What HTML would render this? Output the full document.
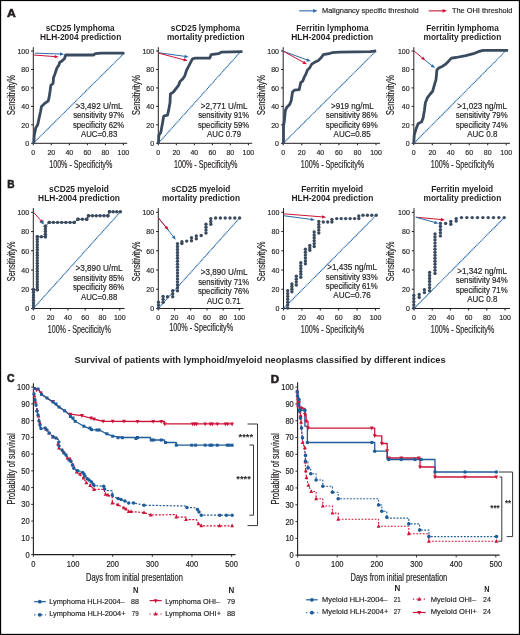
<!DOCTYPE html><html><head><meta charset="utf-8"><style>html,body{margin:0;padding:0;background:#fff;}svg{display:block;will-change:transform;}text{font-family:"Liberation Sans",sans-serif;}</style></head><body><svg width="520" height="635" viewBox="0 0 520 635" font-family="Liberation Sans, sans-serif">
<rect x="0" y="0" width="520" height="635" fill="#fff"/>
<line x1="299.20" y1="10.85" x2="313.60" y2="10.85" stroke="#2a6aa8" stroke-width="1.1" />
<polygon points="317.50,10.85 313.10,12.75 313.10,8.95" fill="#2a6aa8"/>
<text x="322.10" y="12.80" font-size="7.9" font-weight="normal" fill="#231f20" stroke="#231f20" stroke-width="0.18" textLength="96.60" lengthAdjust="spacingAndGlyphs">Malignancy specific threshold</text>
<line x1="428.80" y1="10.85" x2="443.10" y2="10.85" stroke="#cc1439" stroke-width="1.1" />
<polygon points="447.00,10.85 442.60,12.75 442.60,8.95" fill="#cc1439"/>
<text x="451.90" y="12.80" font-size="7.9" font-weight="normal" fill="#231f20" stroke="#231f20" stroke-width="0.18" textLength="60.60" lengthAdjust="spacingAndGlyphs">The OHI threshold</text>
<text x="7.00" y="16.50" font-size="11.7" font-weight="bold" fill="#231f20" stroke="#231f20" stroke-width="0.6" textLength="8.80" lengthAdjust="spacingAndGlyphs">A</text>
<text x="7.20" y="188.20" font-size="11.7" font-weight="bold" fill="#231f20" stroke="#231f20" stroke-width="0.6" textLength="7.30" lengthAdjust="spacingAndGlyphs">B</text>
<line x1="33.30" y1="47.20" x2="33.30" y2="143.80" stroke="#231f20" stroke-width="1" />
<line x1="32.80" y1="143.30" x2="127.20" y2="143.30" stroke="#231f20" stroke-width="1" />
<line x1="31.10" y1="143.30" x2="33.30" y2="143.30" stroke="#231f20" stroke-width="1.0" />
<text x="29.10" y="146.05" font-size="7.9" fill="#231f20" stroke="#231f20" stroke-width="0.18" text-anchor="end" textLength="3.90" lengthAdjust="spacingAndGlyphs">0</text>
<line x1="33.30" y1="143.30" x2="33.30" y2="145.30" stroke="#231f20" stroke-width="1.0" />
<text x="33.30" y="154.90" font-size="7.9" font-weight="normal" fill="#231f20" stroke="#231f20" stroke-width="0.18" text-anchor="middle" textLength="3.90" lengthAdjust="spacingAndGlyphs">0</text>
<line x1="31.10" y1="124.84" x2="33.30" y2="124.84" stroke="#231f20" stroke-width="1.0" />
<text x="29.10" y="127.59" font-size="7.9" fill="#231f20" stroke="#231f20" stroke-width="0.18" text-anchor="end" textLength="7.80" lengthAdjust="spacingAndGlyphs">20</text>
<line x1="51.32" y1="143.30" x2="51.32" y2="145.30" stroke="#231f20" stroke-width="1.0" />
<text x="51.32" y="154.90" font-size="7.9" font-weight="normal" fill="#231f20" stroke="#231f20" stroke-width="0.18" text-anchor="middle" textLength="7.80" lengthAdjust="spacingAndGlyphs">20</text>
<line x1="31.10" y1="106.38" x2="33.30" y2="106.38" stroke="#231f20" stroke-width="1.0" />
<text x="29.10" y="109.13" font-size="7.9" fill="#231f20" stroke="#231f20" stroke-width="0.18" text-anchor="end" textLength="7.80" lengthAdjust="spacingAndGlyphs">40</text>
<line x1="69.34" y1="143.30" x2="69.34" y2="145.30" stroke="#231f20" stroke-width="1.0" />
<text x="69.34" y="154.90" font-size="7.9" font-weight="normal" fill="#231f20" stroke="#231f20" stroke-width="0.18" text-anchor="middle" textLength="7.80" lengthAdjust="spacingAndGlyphs">40</text>
<line x1="31.10" y1="87.92" x2="33.30" y2="87.92" stroke="#231f20" stroke-width="1.0" />
<text x="29.10" y="90.67" font-size="7.9" fill="#231f20" stroke="#231f20" stroke-width="0.18" text-anchor="end" textLength="7.80" lengthAdjust="spacingAndGlyphs">60</text>
<line x1="87.36" y1="143.30" x2="87.36" y2="145.30" stroke="#231f20" stroke-width="1.0" />
<text x="87.36" y="154.90" font-size="7.9" font-weight="normal" fill="#231f20" stroke="#231f20" stroke-width="0.18" text-anchor="middle" textLength="7.80" lengthAdjust="spacingAndGlyphs">60</text>
<line x1="31.10" y1="69.46" x2="33.30" y2="69.46" stroke="#231f20" stroke-width="1.0" />
<text x="29.10" y="72.21" font-size="7.9" fill="#231f20" stroke="#231f20" stroke-width="0.18" text-anchor="end" textLength="7.80" lengthAdjust="spacingAndGlyphs">80</text>
<line x1="105.38" y1="143.30" x2="105.38" y2="145.30" stroke="#231f20" stroke-width="1.0" />
<text x="105.38" y="154.90" font-size="7.9" font-weight="normal" fill="#231f20" stroke="#231f20" stroke-width="0.18" text-anchor="middle" textLength="7.80" lengthAdjust="spacingAndGlyphs">80</text>
<line x1="31.10" y1="51.00" x2="33.30" y2="51.00" stroke="#231f20" stroke-width="1.0" />
<text x="29.10" y="53.75" font-size="7.9" fill="#231f20" stroke="#231f20" stroke-width="0.18" text-anchor="end" textLength="11.70" lengthAdjust="spacingAndGlyphs">100</text>
<line x1="123.40" y1="143.30" x2="123.40" y2="145.30" stroke="#231f20" stroke-width="1.0" />
<text x="123.40" y="154.90" font-size="7.9" font-weight="normal" fill="#231f20" stroke="#231f20" stroke-width="0.18" text-anchor="middle" textLength="11.70" lengthAdjust="spacingAndGlyphs">100</text>
<text x="45.80" y="30.50" font-size="8.6" font-weight="bold" fill="#231f20" textLength="68.80" lengthAdjust="spacingAndGlyphs">sCD25 lymphoma</text>
<text x="40.00" y="40.00" font-size="8.6" font-weight="bold" fill="#231f20" textLength="81.30" lengthAdjust="spacingAndGlyphs">HLH-2004 prediction</text>
<line x1="33.30" y1="143.30" x2="124.20" y2="53.10" stroke="#2266aa" stroke-width="1.2" stroke-dasharray="0.15 1.6" stroke-linecap="round"/>
<polyline points="33.80,143.10 34.20,135.40 35.80,127.70 37.70,124.80 38.70,120.00 40.60,111.30 41.50,106.50 44.40,103.70 48.30,100.80 49.20,96.90 50.20,90.20 50.80,85.40 53.10,83.50 53.50,77.70 55.00,73.80 56.90,68.00 58.80,65.20 59.80,62.30 61.70,61.30 64.60,58.50 65.60,55.00 93.50,55.00 95.40,53.70 101.20,53.10 124.20,53.10" fill="none" stroke="#3b4b5f" stroke-width="2.8" stroke-linejoin="round" />
<line x1="34.80" y1="53.10" x2="60.50" y2="54.06" stroke="#2a6aa8" stroke-width="1.0" />
<polygon points="64.20,54.20 59.94,55.74 60.07,52.34" fill="#2a6aa8"/>
<line x1="33.80" y1="55.00" x2="55.11" y2="56.62" stroke="#cc1439" stroke-width="1.0" />
<polygon points="58.80,56.90 54.48,58.28 54.74,54.89" fill="#cc1439"/>
<text x="75.50" y="109.10" font-size="8.3" font-weight="normal" fill="#231f20" stroke="#231f20" stroke-width="0.18" textLength="47.00" lengthAdjust="spacingAndGlyphs">&gt;3,492 U/mL</text>
<text x="73.20" y="118.40" font-size="8.3" font-weight="normal" fill="#231f20" stroke="#231f20" stroke-width="0.18" textLength="51.00" lengthAdjust="spacingAndGlyphs">sensitivity 97%</text>
<text x="72.90" y="127.60" font-size="8.3" font-weight="normal" fill="#231f20" stroke="#231f20" stroke-width="0.18" textLength="51.30" lengthAdjust="spacingAndGlyphs">specificity 62%</text>
<text x="81.00" y="136.80" font-size="8.3" font-weight="normal" fill="#231f20" stroke="#231f20" stroke-width="0.18" textLength="36.30" lengthAdjust="spacingAndGlyphs">AUC=0.83</text>
<text transform="translate(14.50,114.90) rotate(-90)" x="0" y="0" font-size="10.2" fill="#231f20" stroke="#231f20" stroke-width="0.2" textLength="40.00" lengthAdjust="spacingAndGlyphs">Sensitivity%</text>
<text x="49.20" y="167.80" font-size="10.7" font-weight="normal" fill="#231f20" stroke="#231f20" stroke-width="0.18" textLength="63.10" lengthAdjust="spacingAndGlyphs">100% - Specificity%</text>
<line x1="158.30" y1="47.20" x2="158.30" y2="143.80" stroke="#231f20" stroke-width="1" />
<line x1="157.80" y1="143.30" x2="252.20" y2="143.30" stroke="#231f20" stroke-width="1" />
<line x1="156.10" y1="143.30" x2="158.30" y2="143.30" stroke="#231f20" stroke-width="1.0" />
<text x="154.10" y="146.05" font-size="7.9" fill="#231f20" stroke="#231f20" stroke-width="0.18" text-anchor="end" textLength="3.90" lengthAdjust="spacingAndGlyphs">0</text>
<line x1="158.30" y1="143.30" x2="158.30" y2="145.30" stroke="#231f20" stroke-width="1.0" />
<text x="158.30" y="154.90" font-size="7.9" font-weight="normal" fill="#231f20" stroke="#231f20" stroke-width="0.18" text-anchor="middle" textLength="3.90" lengthAdjust="spacingAndGlyphs">0</text>
<line x1="156.10" y1="124.84" x2="158.30" y2="124.84" stroke="#231f20" stroke-width="1.0" />
<text x="154.10" y="127.59" font-size="7.9" fill="#231f20" stroke="#231f20" stroke-width="0.18" text-anchor="end" textLength="7.80" lengthAdjust="spacingAndGlyphs">20</text>
<line x1="176.32" y1="143.30" x2="176.32" y2="145.30" stroke="#231f20" stroke-width="1.0" />
<text x="176.32" y="154.90" font-size="7.9" font-weight="normal" fill="#231f20" stroke="#231f20" stroke-width="0.18" text-anchor="middle" textLength="7.80" lengthAdjust="spacingAndGlyphs">20</text>
<line x1="156.10" y1="106.38" x2="158.30" y2="106.38" stroke="#231f20" stroke-width="1.0" />
<text x="154.10" y="109.13" font-size="7.9" fill="#231f20" stroke="#231f20" stroke-width="0.18" text-anchor="end" textLength="7.80" lengthAdjust="spacingAndGlyphs">40</text>
<line x1="194.34" y1="143.30" x2="194.34" y2="145.30" stroke="#231f20" stroke-width="1.0" />
<text x="194.34" y="154.90" font-size="7.9" font-weight="normal" fill="#231f20" stroke="#231f20" stroke-width="0.18" text-anchor="middle" textLength="7.80" lengthAdjust="spacingAndGlyphs">40</text>
<line x1="156.10" y1="87.92" x2="158.30" y2="87.92" stroke="#231f20" stroke-width="1.0" />
<text x="154.10" y="90.67" font-size="7.9" fill="#231f20" stroke="#231f20" stroke-width="0.18" text-anchor="end" textLength="7.80" lengthAdjust="spacingAndGlyphs">60</text>
<line x1="212.36" y1="143.30" x2="212.36" y2="145.30" stroke="#231f20" stroke-width="1.0" />
<text x="212.36" y="154.90" font-size="7.9" font-weight="normal" fill="#231f20" stroke="#231f20" stroke-width="0.18" text-anchor="middle" textLength="7.80" lengthAdjust="spacingAndGlyphs">60</text>
<line x1="156.10" y1="69.46" x2="158.30" y2="69.46" stroke="#231f20" stroke-width="1.0" />
<text x="154.10" y="72.21" font-size="7.9" fill="#231f20" stroke="#231f20" stroke-width="0.18" text-anchor="end" textLength="7.80" lengthAdjust="spacingAndGlyphs">80</text>
<line x1="230.38" y1="143.30" x2="230.38" y2="145.30" stroke="#231f20" stroke-width="1.0" />
<text x="230.38" y="154.90" font-size="7.9" font-weight="normal" fill="#231f20" stroke="#231f20" stroke-width="0.18" text-anchor="middle" textLength="7.80" lengthAdjust="spacingAndGlyphs">80</text>
<line x1="156.10" y1="51.00" x2="158.30" y2="51.00" stroke="#231f20" stroke-width="1.0" />
<text x="154.10" y="53.75" font-size="7.9" fill="#231f20" stroke="#231f20" stroke-width="0.18" text-anchor="end" textLength="11.70" lengthAdjust="spacingAndGlyphs">100</text>
<line x1="248.40" y1="143.30" x2="248.40" y2="145.30" stroke="#231f20" stroke-width="1.0" />
<text x="248.40" y="154.90" font-size="7.9" font-weight="normal" fill="#231f20" stroke="#231f20" stroke-width="0.18" text-anchor="middle" textLength="11.70" lengthAdjust="spacingAndGlyphs">100</text>
<text x="170.80" y="30.50" font-size="8.6" font-weight="bold" fill="#231f20" textLength="69.20" lengthAdjust="spacingAndGlyphs">sCD25 lymphoma</text>
<text x="166.90" y="40.00" font-size="8.6" font-weight="bold" fill="#231f20" textLength="77.70" lengthAdjust="spacingAndGlyphs">mortality prediction</text>
<line x1="158.30" y1="143.30" x2="239.80" y2="52.50" stroke="#2266aa" stroke-width="1.2" stroke-dasharray="0.15 1.6" stroke-linecap="round"/>
<polyline points="158.50,143.10 158.80,135.40 160.80,132.50 162.70,121.90 163.70,116.20 167.50,115.20 168.80,109.40 170.00,102.70 170.40,94.00 173.30,92.10 176.20,88.30 178.50,85.40 180.00,81.50 182.90,78.70 184.80,75.80 186.70,70.00 188.70,66.20 190.60,62.30 192.50,58.80 195.40,58.10 209.80,58.10 211.20,54.60 218.50,53.70 221.30,52.10 242.50,51.70" fill="none" stroke="#3b4b5f" stroke-width="2.8" stroke-linejoin="round" />
<line x1="158.50" y1="52.70" x2="185.04" y2="56.39" stroke="#2a6aa8" stroke-width="1.0" />
<polygon points="188.70,56.90 184.31,58.01 184.77,54.64" fill="#2a6aa8"/>
<line x1="158.50" y1="53.10" x2="184.12" y2="59.86" stroke="#cc1439" stroke-width="1.0" />
<polygon points="187.70,60.80 183.21,61.37 184.07,58.09" fill="#cc1439"/>
<text x="200.80" y="109.10" font-size="8.3" font-weight="normal" fill="#231f20" stroke="#231f20" stroke-width="0.18" textLength="46.70" lengthAdjust="spacingAndGlyphs">&gt;2,771 U/mL</text>
<text x="198.20" y="118.40" font-size="8.3" font-weight="normal" fill="#231f20" stroke="#231f20" stroke-width="0.18" textLength="51.00" lengthAdjust="spacingAndGlyphs">sensitivity 91%</text>
<text x="197.90" y="127.60" font-size="8.3" font-weight="normal" fill="#231f20" stroke="#231f20" stroke-width="0.18" textLength="51.30" lengthAdjust="spacingAndGlyphs">specificity 59%</text>
<text x="207.10" y="136.80" font-size="8.3" font-weight="normal" fill="#231f20" stroke="#231f20" stroke-width="0.18" textLength="34.00" lengthAdjust="spacingAndGlyphs">AUC 0.79</text>
<text transform="translate(139.50,114.90) rotate(-90)" x="0" y="0" font-size="10.2" fill="#231f20" stroke="#231f20" stroke-width="0.2" textLength="40.00" lengthAdjust="spacingAndGlyphs">Sensitivity%</text>
<text x="174.00" y="167.80" font-size="10.7" font-weight="normal" fill="#231f20" stroke="#231f20" stroke-width="0.18" textLength="63.50" lengthAdjust="spacingAndGlyphs">100% - Specificity%</text>
<line x1="283.20" y1="47.20" x2="283.20" y2="143.80" stroke="#231f20" stroke-width="1" />
<line x1="282.70" y1="143.30" x2="380.00" y2="143.30" stroke="#231f20" stroke-width="1" />
<line x1="281.00" y1="143.30" x2="283.20" y2="143.30" stroke="#231f20" stroke-width="1.0" />
<text x="279.00" y="146.05" font-size="7.9" fill="#231f20" stroke="#231f20" stroke-width="0.18" text-anchor="end" textLength="3.90" lengthAdjust="spacingAndGlyphs">0</text>
<line x1="283.20" y1="143.30" x2="283.20" y2="145.30" stroke="#231f20" stroke-width="1.0" />
<text x="283.20" y="154.90" font-size="7.9" font-weight="normal" fill="#231f20" stroke="#231f20" stroke-width="0.18" text-anchor="middle" textLength="3.90" lengthAdjust="spacingAndGlyphs">0</text>
<line x1="281.00" y1="124.84" x2="283.20" y2="124.84" stroke="#231f20" stroke-width="1.0" />
<text x="279.00" y="127.59" font-size="7.9" fill="#231f20" stroke="#231f20" stroke-width="0.18" text-anchor="end" textLength="7.80" lengthAdjust="spacingAndGlyphs">20</text>
<line x1="301.76" y1="143.30" x2="301.76" y2="145.30" stroke="#231f20" stroke-width="1.0" />
<text x="301.76" y="154.90" font-size="7.9" font-weight="normal" fill="#231f20" stroke="#231f20" stroke-width="0.18" text-anchor="middle" textLength="7.80" lengthAdjust="spacingAndGlyphs">20</text>
<line x1="281.00" y1="106.38" x2="283.20" y2="106.38" stroke="#231f20" stroke-width="1.0" />
<text x="279.00" y="109.13" font-size="7.9" fill="#231f20" stroke="#231f20" stroke-width="0.18" text-anchor="end" textLength="7.80" lengthAdjust="spacingAndGlyphs">40</text>
<line x1="320.32" y1="143.30" x2="320.32" y2="145.30" stroke="#231f20" stroke-width="1.0" />
<text x="320.32" y="154.90" font-size="7.9" font-weight="normal" fill="#231f20" stroke="#231f20" stroke-width="0.18" text-anchor="middle" textLength="7.80" lengthAdjust="spacingAndGlyphs">40</text>
<line x1="281.00" y1="87.92" x2="283.20" y2="87.92" stroke="#231f20" stroke-width="1.0" />
<text x="279.00" y="90.67" font-size="7.9" fill="#231f20" stroke="#231f20" stroke-width="0.18" text-anchor="end" textLength="7.80" lengthAdjust="spacingAndGlyphs">60</text>
<line x1="338.88" y1="143.30" x2="338.88" y2="145.30" stroke="#231f20" stroke-width="1.0" />
<text x="338.88" y="154.90" font-size="7.9" font-weight="normal" fill="#231f20" stroke="#231f20" stroke-width="0.18" text-anchor="middle" textLength="7.80" lengthAdjust="spacingAndGlyphs">60</text>
<line x1="281.00" y1="69.46" x2="283.20" y2="69.46" stroke="#231f20" stroke-width="1.0" />
<text x="279.00" y="72.21" font-size="7.9" fill="#231f20" stroke="#231f20" stroke-width="0.18" text-anchor="end" textLength="7.80" lengthAdjust="spacingAndGlyphs">80</text>
<line x1="357.44" y1="143.30" x2="357.44" y2="145.30" stroke="#231f20" stroke-width="1.0" />
<text x="357.44" y="154.90" font-size="7.9" font-weight="normal" fill="#231f20" stroke="#231f20" stroke-width="0.18" text-anchor="middle" textLength="7.80" lengthAdjust="spacingAndGlyphs">80</text>
<line x1="281.00" y1="51.00" x2="283.20" y2="51.00" stroke="#231f20" stroke-width="1.0" />
<text x="279.00" y="53.75" font-size="7.9" fill="#231f20" stroke="#231f20" stroke-width="0.18" text-anchor="end" textLength="11.70" lengthAdjust="spacingAndGlyphs">100</text>
<line x1="376.00" y1="143.30" x2="376.00" y2="145.30" stroke="#231f20" stroke-width="1.0" />
<text x="376.00" y="154.90" font-size="7.9" font-weight="normal" fill="#231f20" stroke="#231f20" stroke-width="0.18" text-anchor="middle" textLength="11.70" lengthAdjust="spacingAndGlyphs">100</text>
<text x="296.30" y="30.50" font-size="8.6" font-weight="bold" fill="#231f20" textLength="72.20" lengthAdjust="spacingAndGlyphs">Ferritin lymphoma</text>
<text x="291.20" y="40.00" font-size="8.6" font-weight="bold" fill="#231f20" textLength="82.10" lengthAdjust="spacingAndGlyphs">HLH-2004 prediction</text>
<line x1="283.20" y1="143.30" x2="376.20" y2="50.80" stroke="#2266aa" stroke-width="1.2" stroke-dasharray="0.15 1.6" stroke-linecap="round"/>
<polyline points="283.50,143.10 283.50,125.80 284.20,121.90 285.40,110.40 286.70,107.50 289.60,104.60 291.20,100.80 292.50,92.10 294.40,90.20 299.20,89.60 300.80,82.50 302.70,81.20 304.00,77.70 306.00,73.80 307.50,70.00 309.80,67.70 311.70,64.20 314.60,62.30 318.50,60.40 321.30,57.50 323.30,54.60 329.00,53.70 331.90,52.70 339.60,52.10 370.40,51.70 376.20,50.80" fill="none" stroke="#3b4b5f" stroke-width="2.8" stroke-linejoin="round" />
<line x1="283.20" y1="51.20" x2="307.33" y2="60.03" stroke="#2a6aa8" stroke-width="1.0" />
<polygon points="310.80,61.30 306.27,61.45 307.44,58.26" fill="#2a6aa8"/>
<line x1="283.20" y1="51.20" x2="303.66" y2="62.42" stroke="#cc1439" stroke-width="1.0" />
<polygon points="306.90,64.20 302.40,63.67 304.04,60.69" fill="#cc1439"/>
<text x="331.00" y="109.10" font-size="8.3" font-weight="normal" fill="#231f20" stroke="#231f20" stroke-width="0.18" textLength="42.60" lengthAdjust="spacingAndGlyphs">&gt;919 ng/mL</text>
<text x="325.80" y="118.40" font-size="8.3" font-weight="normal" fill="#231f20" stroke="#231f20" stroke-width="0.18" textLength="51.90" lengthAdjust="spacingAndGlyphs">sensitivity 86%</text>
<text x="325.80" y="127.60" font-size="8.3" font-weight="normal" fill="#231f20" stroke="#231f20" stroke-width="0.18" textLength="51.90" lengthAdjust="spacingAndGlyphs">specificity 69%</text>
<text x="333.60" y="136.80" font-size="8.3" font-weight="normal" fill="#231f20" stroke="#231f20" stroke-width="0.18" textLength="37.10" lengthAdjust="spacingAndGlyphs">AUC=0.85</text>
<text transform="translate(264.50,114.90) rotate(-90)" x="0" y="0" font-size="10.2" fill="#231f20" stroke="#231f20" stroke-width="0.2" textLength="40.00" lengthAdjust="spacingAndGlyphs">Sensitivity%</text>
<text x="300.80" y="167.80" font-size="10.7" font-weight="normal" fill="#231f20" stroke="#231f20" stroke-width="0.18" textLength="63.40" lengthAdjust="spacingAndGlyphs">100% - Specificity%</text>
<line x1="413.80" y1="47.20" x2="413.80" y2="143.80" stroke="#231f20" stroke-width="1" />
<line x1="413.30" y1="143.30" x2="510.00" y2="143.30" stroke="#231f20" stroke-width="1" />
<line x1="411.60" y1="143.30" x2="413.80" y2="143.30" stroke="#231f20" stroke-width="1.0" />
<text x="409.60" y="146.05" font-size="7.9" fill="#231f20" stroke="#231f20" stroke-width="0.18" text-anchor="end" textLength="3.90" lengthAdjust="spacingAndGlyphs">0</text>
<line x1="413.80" y1="143.30" x2="413.80" y2="145.30" stroke="#231f20" stroke-width="1.0" />
<text x="413.80" y="154.90" font-size="7.9" font-weight="normal" fill="#231f20" stroke="#231f20" stroke-width="0.18" text-anchor="middle" textLength="3.90" lengthAdjust="spacingAndGlyphs">0</text>
<line x1="411.60" y1="124.84" x2="413.80" y2="124.84" stroke="#231f20" stroke-width="1.0" />
<text x="409.60" y="127.59" font-size="7.9" fill="#231f20" stroke="#231f20" stroke-width="0.18" text-anchor="end" textLength="7.80" lengthAdjust="spacingAndGlyphs">20</text>
<line x1="432.28" y1="143.30" x2="432.28" y2="145.30" stroke="#231f20" stroke-width="1.0" />
<text x="432.28" y="154.90" font-size="7.9" font-weight="normal" fill="#231f20" stroke="#231f20" stroke-width="0.18" text-anchor="middle" textLength="7.80" lengthAdjust="spacingAndGlyphs">20</text>
<line x1="411.60" y1="106.38" x2="413.80" y2="106.38" stroke="#231f20" stroke-width="1.0" />
<text x="409.60" y="109.13" font-size="7.9" fill="#231f20" stroke="#231f20" stroke-width="0.18" text-anchor="end" textLength="7.80" lengthAdjust="spacingAndGlyphs">40</text>
<line x1="450.76" y1="143.30" x2="450.76" y2="145.30" stroke="#231f20" stroke-width="1.0" />
<text x="450.76" y="154.90" font-size="7.9" font-weight="normal" fill="#231f20" stroke="#231f20" stroke-width="0.18" text-anchor="middle" textLength="7.80" lengthAdjust="spacingAndGlyphs">40</text>
<line x1="411.60" y1="87.92" x2="413.80" y2="87.92" stroke="#231f20" stroke-width="1.0" />
<text x="409.60" y="90.67" font-size="7.9" fill="#231f20" stroke="#231f20" stroke-width="0.18" text-anchor="end" textLength="7.80" lengthAdjust="spacingAndGlyphs">60</text>
<line x1="469.24" y1="143.30" x2="469.24" y2="145.30" stroke="#231f20" stroke-width="1.0" />
<text x="469.24" y="154.90" font-size="7.9" font-weight="normal" fill="#231f20" stroke="#231f20" stroke-width="0.18" text-anchor="middle" textLength="7.80" lengthAdjust="spacingAndGlyphs">60</text>
<line x1="411.60" y1="69.46" x2="413.80" y2="69.46" stroke="#231f20" stroke-width="1.0" />
<text x="409.60" y="72.21" font-size="7.9" fill="#231f20" stroke="#231f20" stroke-width="0.18" text-anchor="end" textLength="7.80" lengthAdjust="spacingAndGlyphs">80</text>
<line x1="487.72" y1="143.30" x2="487.72" y2="145.30" stroke="#231f20" stroke-width="1.0" />
<text x="487.72" y="154.90" font-size="7.9" font-weight="normal" fill="#231f20" stroke="#231f20" stroke-width="0.18" text-anchor="middle" textLength="7.80" lengthAdjust="spacingAndGlyphs">80</text>
<line x1="411.60" y1="51.00" x2="413.80" y2="51.00" stroke="#231f20" stroke-width="1.0" />
<text x="409.60" y="53.75" font-size="7.9" fill="#231f20" stroke="#231f20" stroke-width="0.18" text-anchor="end" textLength="11.70" lengthAdjust="spacingAndGlyphs">100</text>
<line x1="506.20" y1="143.30" x2="506.20" y2="145.30" stroke="#231f20" stroke-width="1.0" />
<text x="506.20" y="154.90" font-size="7.9" font-weight="normal" fill="#231f20" stroke="#231f20" stroke-width="0.18" text-anchor="middle" textLength="11.70" lengthAdjust="spacingAndGlyphs">100</text>
<text x="426.30" y="30.50" font-size="8.6" font-weight="bold" fill="#231f20" textLength="72.50" lengthAdjust="spacingAndGlyphs">Ferritin lymphoma</text>
<text x="423.50" y="40.00" font-size="8.6" font-weight="bold" fill="#231f20" textLength="77.80" lengthAdjust="spacingAndGlyphs">mortality prediction</text>
<line x1="413.80" y1="143.30" x2="506.20" y2="50.40" stroke="#2266aa" stroke-width="1.2" stroke-dasharray="0.15 1.6" stroke-linecap="round"/>
<polyline points="413.80,143.10 414.20,135.40 415.80,129.60 418.10,123.80 421.50,121.90 423.10,118.10 424.40,110.40 425.40,102.70 427.30,97.90 430.20,94.00 432.70,91.20 434.00,86.30 436.00,79.60 436.90,70.00 438.80,68.10 442.70,66.20 445.60,64.20 448.50,61.30 451.30,58.10 456.20,57.50 465.80,55.60 473.50,53.70 478.30,51.70 483.10,50.40 508.10,50.40" fill="none" stroke="#3b4b5f" stroke-width="2.8" stroke-linejoin="round" />
<line x1="424.50" y1="59.60" x2="432.12" y2="65.77" stroke="#2a6aa8" stroke-width="1.0" />
<polygon points="435.00,68.10 430.67,66.78 432.81,64.14" fill="#2a6aa8"/>
<line x1="413.80" y1="50.80" x2="422.55" y2="58.04" stroke="#cc1439" stroke-width="1.0" />
<polygon points="425.40,60.40 421.08,59.03 423.25,56.41" fill="#cc1439"/>
<text x="457.20" y="109.10" font-size="8.3" font-weight="normal" fill="#231f20" stroke="#231f20" stroke-width="0.18" textLength="49.90" lengthAdjust="spacingAndGlyphs">&gt;1,023 ng/mL</text>
<text x="455.80" y="118.40" font-size="8.3" font-weight="normal" fill="#231f20" stroke="#231f20" stroke-width="0.18" textLength="51.90" lengthAdjust="spacingAndGlyphs">sensitivity 79%</text>
<text x="455.80" y="127.60" font-size="8.3" font-weight="normal" fill="#231f20" stroke="#231f20" stroke-width="0.18" textLength="51.90" lengthAdjust="spacingAndGlyphs">specificity 74%</text>
<text x="467.30" y="136.80" font-size="8.3" font-weight="normal" fill="#231f20" stroke="#231f20" stroke-width="0.18" textLength="30.00" lengthAdjust="spacingAndGlyphs">AUC 0.8</text>
<text transform="translate(394.00,114.90) rotate(-90)" x="0" y="0" font-size="10.2" fill="#231f20" stroke="#231f20" stroke-width="0.2" textLength="40.00" lengthAdjust="spacingAndGlyphs">Sensitivity%</text>
<text x="430.80" y="167.80" font-size="10.7" font-weight="normal" fill="#231f20" stroke="#231f20" stroke-width="0.18" textLength="63.40" lengthAdjust="spacingAndGlyphs">100% - Specificity%</text>
<line x1="33.30" y1="208.10" x2="33.30" y2="309.00" stroke="#231f20" stroke-width="1" />
<line x1="32.80" y1="308.50" x2="124.60" y2="308.50" stroke="#231f20" stroke-width="1" />
<line x1="31.10" y1="308.50" x2="33.30" y2="308.50" stroke="#231f20" stroke-width="1.0" />
<text x="29.10" y="311.25" font-size="7.9" fill="#231f20" stroke="#231f20" stroke-width="0.18" text-anchor="end" textLength="3.90" lengthAdjust="spacingAndGlyphs">0</text>
<line x1="33.30" y1="308.50" x2="33.30" y2="310.50" stroke="#231f20" stroke-width="1.0" />
<text x="33.30" y="320.00" font-size="7.9" font-weight="normal" fill="#231f20" stroke="#231f20" stroke-width="0.18" text-anchor="middle" textLength="3.90" lengthAdjust="spacingAndGlyphs">0</text>
<line x1="31.10" y1="289.26" x2="33.30" y2="289.26" stroke="#231f20" stroke-width="1.0" />
<text x="29.10" y="292.01" font-size="7.9" fill="#231f20" stroke="#231f20" stroke-width="0.18" text-anchor="end" textLength="7.80" lengthAdjust="spacingAndGlyphs">20</text>
<line x1="50.60" y1="308.50" x2="50.60" y2="310.50" stroke="#231f20" stroke-width="1.0" />
<text x="50.60" y="320.00" font-size="7.9" font-weight="normal" fill="#231f20" stroke="#231f20" stroke-width="0.18" text-anchor="middle" textLength="7.80" lengthAdjust="spacingAndGlyphs">20</text>
<line x1="31.10" y1="270.02" x2="33.30" y2="270.02" stroke="#231f20" stroke-width="1.0" />
<text x="29.10" y="272.77" font-size="7.9" fill="#231f20" stroke="#231f20" stroke-width="0.18" text-anchor="end" textLength="7.80" lengthAdjust="spacingAndGlyphs">40</text>
<line x1="67.90" y1="308.50" x2="67.90" y2="310.50" stroke="#231f20" stroke-width="1.0" />
<text x="67.90" y="320.00" font-size="7.9" font-weight="normal" fill="#231f20" stroke="#231f20" stroke-width="0.18" text-anchor="middle" textLength="7.80" lengthAdjust="spacingAndGlyphs">40</text>
<line x1="31.10" y1="250.78" x2="33.30" y2="250.78" stroke="#231f20" stroke-width="1.0" />
<text x="29.10" y="253.53" font-size="7.9" fill="#231f20" stroke="#231f20" stroke-width="0.18" text-anchor="end" textLength="7.80" lengthAdjust="spacingAndGlyphs">60</text>
<line x1="85.20" y1="308.50" x2="85.20" y2="310.50" stroke="#231f20" stroke-width="1.0" />
<text x="85.20" y="320.00" font-size="7.9" font-weight="normal" fill="#231f20" stroke="#231f20" stroke-width="0.18" text-anchor="middle" textLength="7.80" lengthAdjust="spacingAndGlyphs">60</text>
<line x1="31.10" y1="231.54" x2="33.30" y2="231.54" stroke="#231f20" stroke-width="1.0" />
<text x="29.10" y="234.29" font-size="7.9" fill="#231f20" stroke="#231f20" stroke-width="0.18" text-anchor="end" textLength="7.80" lengthAdjust="spacingAndGlyphs">80</text>
<line x1="102.50" y1="308.50" x2="102.50" y2="310.50" stroke="#231f20" stroke-width="1.0" />
<text x="102.50" y="320.00" font-size="7.9" font-weight="normal" fill="#231f20" stroke="#231f20" stroke-width="0.18" text-anchor="middle" textLength="7.80" lengthAdjust="spacingAndGlyphs">80</text>
<line x1="31.10" y1="212.30" x2="33.30" y2="212.30" stroke="#231f20" stroke-width="1.0" />
<text x="29.10" y="215.05" font-size="7.9" fill="#231f20" stroke="#231f20" stroke-width="0.18" text-anchor="end" textLength="11.70" lengthAdjust="spacingAndGlyphs">100</text>
<line x1="119.80" y1="308.50" x2="119.80" y2="310.50" stroke="#231f20" stroke-width="1.0" />
<text x="119.80" y="320.00" font-size="7.9" font-weight="normal" fill="#231f20" stroke="#231f20" stroke-width="0.18" text-anchor="middle" textLength="11.70" lengthAdjust="spacingAndGlyphs">100</text>
<text x="49.00" y="191.80" font-size="8.6" font-weight="bold" fill="#231f20" textLength="59.80" lengthAdjust="spacingAndGlyphs">sCD25 myeloid</text>
<text x="38.10" y="201.30" font-size="8.6" font-weight="bold" fill="#231f20" textLength="81.90" lengthAdjust="spacingAndGlyphs">HLH-2004 prediction</text>
<line x1="33.30" y1="308.50" x2="120.40" y2="211.80" stroke="#2266aa" stroke-width="1.2" stroke-dasharray="0.15 1.6" stroke-linecap="round"/>
<polyline points="33.50,308.00 33.50,289.70 37.30,289.70 37.30,236.80 45.40,236.80 45.40,226.30 49.20,222.40 74.20,222.40 78.00,219.20 86.70,219.20 88.50,215.70 107.90,215.70 109.50,211.80 120.40,211.80" fill="none" stroke="#3b4b5f" stroke-width="1.0" stroke-linejoin="round" />
<circle cx="33.50" cy="308.00" r="1.7" fill="#3b4b5f"/>
<circle cx="33.50" cy="305.39" r="1.7" fill="#3b4b5f"/>
<circle cx="33.50" cy="302.77" r="1.7" fill="#3b4b5f"/>
<circle cx="33.50" cy="300.16" r="1.7" fill="#3b4b5f"/>
<circle cx="33.50" cy="297.54" r="1.7" fill="#3b4b5f"/>
<circle cx="33.50" cy="294.93" r="1.7" fill="#3b4b5f"/>
<circle cx="33.50" cy="292.31" r="1.7" fill="#3b4b5f"/>
<circle cx="33.50" cy="289.70" r="1.7" fill="#3b4b5f"/>
<circle cx="33.50" cy="289.70" r="1.7" fill="#3b4b5f"/>
<circle cx="37.30" cy="289.70" r="1.7" fill="#3b4b5f"/>
<circle cx="37.30" cy="289.70" r="1.7" fill="#3b4b5f"/>
<circle cx="37.30" cy="287.06" r="1.7" fill="#3b4b5f"/>
<circle cx="37.30" cy="284.41" r="1.7" fill="#3b4b5f"/>
<circle cx="37.30" cy="281.76" r="1.7" fill="#3b4b5f"/>
<circle cx="37.30" cy="279.12" r="1.7" fill="#3b4b5f"/>
<circle cx="37.30" cy="276.48" r="1.7" fill="#3b4b5f"/>
<circle cx="37.30" cy="273.83" r="1.7" fill="#3b4b5f"/>
<circle cx="37.30" cy="271.19" r="1.7" fill="#3b4b5f"/>
<circle cx="37.30" cy="268.54" r="1.7" fill="#3b4b5f"/>
<circle cx="37.30" cy="265.89" r="1.7" fill="#3b4b5f"/>
<circle cx="37.30" cy="263.25" r="1.7" fill="#3b4b5f"/>
<circle cx="37.30" cy="260.61" r="1.7" fill="#3b4b5f"/>
<circle cx="37.30" cy="257.96" r="1.7" fill="#3b4b5f"/>
<circle cx="37.30" cy="255.31" r="1.7" fill="#3b4b5f"/>
<circle cx="37.30" cy="252.67" r="1.7" fill="#3b4b5f"/>
<circle cx="37.30" cy="250.03" r="1.7" fill="#3b4b5f"/>
<circle cx="37.30" cy="247.38" r="1.7" fill="#3b4b5f"/>
<circle cx="37.30" cy="244.74" r="1.7" fill="#3b4b5f"/>
<circle cx="37.30" cy="242.09" r="1.7" fill="#3b4b5f"/>
<circle cx="37.30" cy="239.44" r="1.7" fill="#3b4b5f"/>
<circle cx="37.30" cy="236.80" r="1.7" fill="#3b4b5f"/>
<circle cx="37.30" cy="236.80" r="1.7" fill="#3b4b5f"/>
<circle cx="41.35" cy="236.80" r="1.7" fill="#3b4b5f"/>
<circle cx="45.40" cy="236.80" r="1.7" fill="#3b4b5f"/>
<circle cx="45.40" cy="236.80" r="1.7" fill="#3b4b5f"/>
<circle cx="45.40" cy="234.18" r="1.7" fill="#3b4b5f"/>
<circle cx="45.40" cy="231.55" r="1.7" fill="#3b4b5f"/>
<circle cx="45.40" cy="228.93" r="1.7" fill="#3b4b5f"/>
<circle cx="45.40" cy="226.30" r="1.7" fill="#3b4b5f"/>
<circle cx="45.40" cy="226.30" r="1.7" fill="#3b4b5f"/>
<circle cx="49.20" cy="222.40" r="1.7" fill="#3b4b5f"/>
<circle cx="49.20" cy="222.40" r="1.7" fill="#3b4b5f"/>
<circle cx="53.37" cy="222.40" r="1.7" fill="#3b4b5f"/>
<circle cx="57.53" cy="222.40" r="1.7" fill="#3b4b5f"/>
<circle cx="61.70" cy="222.40" r="1.7" fill="#3b4b5f"/>
<circle cx="65.87" cy="222.40" r="1.7" fill="#3b4b5f"/>
<circle cx="70.03" cy="222.40" r="1.7" fill="#3b4b5f"/>
<circle cx="74.20" cy="222.40" r="1.7" fill="#3b4b5f"/>
<circle cx="74.20" cy="222.40" r="1.7" fill="#3b4b5f"/>
<circle cx="78.00" cy="219.20" r="1.7" fill="#3b4b5f"/>
<circle cx="78.00" cy="219.20" r="1.7" fill="#3b4b5f"/>
<circle cx="82.35" cy="219.20" r="1.7" fill="#3b4b5f"/>
<circle cx="86.70" cy="219.20" r="1.7" fill="#3b4b5f"/>
<circle cx="86.70" cy="219.20" r="1.7" fill="#3b4b5f"/>
<circle cx="88.50" cy="215.70" r="1.7" fill="#3b4b5f"/>
<circle cx="88.50" cy="215.70" r="1.7" fill="#3b4b5f"/>
<circle cx="92.38" cy="215.70" r="1.7" fill="#3b4b5f"/>
<circle cx="96.26" cy="215.70" r="1.7" fill="#3b4b5f"/>
<circle cx="100.14" cy="215.70" r="1.7" fill="#3b4b5f"/>
<circle cx="104.02" cy="215.70" r="1.7" fill="#3b4b5f"/>
<circle cx="107.90" cy="215.70" r="1.7" fill="#3b4b5f"/>
<circle cx="107.90" cy="215.70" r="1.7" fill="#3b4b5f"/>
<circle cx="109.50" cy="211.80" r="1.7" fill="#3b4b5f"/>
<circle cx="109.50" cy="211.80" r="1.7" fill="#3b4b5f"/>
<circle cx="113.13" cy="211.80" r="1.7" fill="#3b4b5f"/>
<circle cx="116.77" cy="211.80" r="1.7" fill="#3b4b5f"/>
<circle cx="120.40" cy="211.80" r="1.7" fill="#3b4b5f"/>
<line x1="33.60" y1="212.30" x2="40.95" y2="220.63" stroke="#cc1439" stroke-width="1.0" />
<polygon points="43.40,223.40 39.35,221.38 41.89,219.13" fill="#cc1439"/>
<polygon points="43.8,224.6 39.8,222.6 43.3,219.8" fill="#2a6aa8"/>
<text x="75.50" y="271.20" font-size="8.3" font-weight="normal" fill="#231f20" stroke="#231f20" stroke-width="0.18" textLength="47.00" lengthAdjust="spacingAndGlyphs">&gt;3,890 U/mL</text>
<text x="73.20" y="280.70" font-size="8.3" font-weight="normal" fill="#231f20" stroke="#231f20" stroke-width="0.18" textLength="51.00" lengthAdjust="spacingAndGlyphs">sensitivity 85%</text>
<text x="72.90" y="290.20" font-size="8.3" font-weight="normal" fill="#231f20" stroke="#231f20" stroke-width="0.18" textLength="51.30" lengthAdjust="spacingAndGlyphs">specificity 86%</text>
<text x="81.00" y="299.50" font-size="8.3" font-weight="normal" fill="#231f20" stroke="#231f20" stroke-width="0.18" textLength="36.30" lengthAdjust="spacingAndGlyphs">AUC=0.88</text>
<text transform="translate(15.00,281.20) rotate(-90)" x="0" y="0" font-size="10.2" fill="#231f20" stroke="#231f20" stroke-width="0.2" textLength="39.80" lengthAdjust="spacingAndGlyphs">Sensitivity%</text>
<text x="47.70" y="333.00" font-size="10.7" font-weight="normal" fill="#231f20" stroke="#231f20" stroke-width="0.18" textLength="63.10" lengthAdjust="spacingAndGlyphs">100% - Specificity%</text>
<line x1="158.30" y1="208.10" x2="158.30" y2="309.00" stroke="#231f20" stroke-width="1" />
<line x1="157.80" y1="308.50" x2="243.50" y2="308.50" stroke="#231f20" stroke-width="1" />
<line x1="156.10" y1="308.50" x2="158.30" y2="308.50" stroke="#231f20" stroke-width="1.0" />
<text x="154.10" y="311.25" font-size="7.9" fill="#231f20" stroke="#231f20" stroke-width="0.18" text-anchor="end" textLength="3.90" lengthAdjust="spacingAndGlyphs">0</text>
<line x1="158.30" y1="308.50" x2="158.30" y2="310.50" stroke="#231f20" stroke-width="1.0" />
<text x="158.30" y="320.00" font-size="7.9" font-weight="normal" fill="#231f20" stroke="#231f20" stroke-width="0.18" text-anchor="middle" textLength="3.90" lengthAdjust="spacingAndGlyphs">0</text>
<line x1="156.10" y1="289.26" x2="158.30" y2="289.26" stroke="#231f20" stroke-width="1.0" />
<text x="154.10" y="292.01" font-size="7.9" fill="#231f20" stroke="#231f20" stroke-width="0.18" text-anchor="end" textLength="7.80" lengthAdjust="spacingAndGlyphs">20</text>
<line x1="174.52" y1="308.50" x2="174.52" y2="310.50" stroke="#231f20" stroke-width="1.0" />
<text x="174.52" y="320.00" font-size="7.9" font-weight="normal" fill="#231f20" stroke="#231f20" stroke-width="0.18" text-anchor="middle" textLength="7.80" lengthAdjust="spacingAndGlyphs">20</text>
<line x1="156.10" y1="270.02" x2="158.30" y2="270.02" stroke="#231f20" stroke-width="1.0" />
<text x="154.10" y="272.77" font-size="7.9" fill="#231f20" stroke="#231f20" stroke-width="0.18" text-anchor="end" textLength="7.80" lengthAdjust="spacingAndGlyphs">40</text>
<line x1="190.74" y1="308.50" x2="190.74" y2="310.50" stroke="#231f20" stroke-width="1.0" />
<text x="190.74" y="320.00" font-size="7.9" font-weight="normal" fill="#231f20" stroke="#231f20" stroke-width="0.18" text-anchor="middle" textLength="7.80" lengthAdjust="spacingAndGlyphs">40</text>
<line x1="156.10" y1="250.78" x2="158.30" y2="250.78" stroke="#231f20" stroke-width="1.0" />
<text x="154.10" y="253.53" font-size="7.9" fill="#231f20" stroke="#231f20" stroke-width="0.18" text-anchor="end" textLength="7.80" lengthAdjust="spacingAndGlyphs">60</text>
<line x1="206.96" y1="308.50" x2="206.96" y2="310.50" stroke="#231f20" stroke-width="1.0" />
<text x="206.96" y="320.00" font-size="7.9" font-weight="normal" fill="#231f20" stroke="#231f20" stroke-width="0.18" text-anchor="middle" textLength="7.80" lengthAdjust="spacingAndGlyphs">60</text>
<line x1="156.10" y1="231.54" x2="158.30" y2="231.54" stroke="#231f20" stroke-width="1.0" />
<text x="154.10" y="234.29" font-size="7.9" fill="#231f20" stroke="#231f20" stroke-width="0.18" text-anchor="end" textLength="7.80" lengthAdjust="spacingAndGlyphs">80</text>
<line x1="223.18" y1="308.50" x2="223.18" y2="310.50" stroke="#231f20" stroke-width="1.0" />
<text x="223.18" y="320.00" font-size="7.9" font-weight="normal" fill="#231f20" stroke="#231f20" stroke-width="0.18" text-anchor="middle" textLength="7.80" lengthAdjust="spacingAndGlyphs">80</text>
<line x1="156.10" y1="212.30" x2="158.30" y2="212.30" stroke="#231f20" stroke-width="1.0" />
<text x="154.10" y="215.05" font-size="7.9" fill="#231f20" stroke="#231f20" stroke-width="0.18" text-anchor="end" textLength="11.70" lengthAdjust="spacingAndGlyphs">100</text>
<line x1="239.40" y1="308.50" x2="239.40" y2="310.50" stroke="#231f20" stroke-width="1.0" />
<text x="239.40" y="320.00" font-size="7.9" font-weight="normal" fill="#231f20" stroke="#231f20" stroke-width="0.18" text-anchor="middle" textLength="11.70" lengthAdjust="spacingAndGlyphs">100</text>
<text x="171.20" y="191.80" font-size="8.6" font-weight="bold" fill="#231f20" textLength="59.20" lengthAdjust="spacingAndGlyphs">sCD25 myeloid</text>
<text x="161.90" y="201.30" font-size="8.6" font-weight="bold" fill="#231f20" textLength="78.10" lengthAdjust="spacingAndGlyphs">mortality prediction</text>
<line x1="158.30" y1="308.50" x2="239.60" y2="218.00" stroke="#2266aa" stroke-width="1.2" stroke-dasharray="0.15 1.6" stroke-linecap="round"/>
<circle cx="158.50" cy="308.00" r="1.7" fill="#3b4b5f"/>
<circle cx="158.50" cy="305.10" r="1.7" fill="#3b4b5f"/>
<circle cx="158.50" cy="302.20" r="1.7" fill="#3b4b5f"/>
<circle cx="163.10" cy="302.20" r="1.7" fill="#3b4b5f"/>
<circle cx="163.10" cy="299.35" r="1.7" fill="#3b4b5f"/>
<circle cx="163.10" cy="296.50" r="1.7" fill="#3b4b5f"/>
<circle cx="167.50" cy="296.80" r="1.7" fill="#3b4b5f"/>
<circle cx="172.70" cy="296.80" r="1.7" fill="#3b4b5f"/>
<circle cx="172.70" cy="293.75" r="1.7" fill="#3b4b5f"/>
<circle cx="172.70" cy="290.70" r="1.7" fill="#3b4b5f"/>
<circle cx="177.50" cy="290.70" r="1.7" fill="#3b4b5f"/>
<circle cx="177.50" cy="287.76" r="1.7" fill="#3b4b5f"/>
<circle cx="177.50" cy="284.81" r="1.7" fill="#3b4b5f"/>
<circle cx="177.50" cy="281.87" r="1.7" fill="#3b4b5f"/>
<circle cx="177.50" cy="278.93" r="1.7" fill="#3b4b5f"/>
<circle cx="177.50" cy="275.98" r="1.7" fill="#3b4b5f"/>
<circle cx="177.50" cy="273.04" r="1.7" fill="#3b4b5f"/>
<circle cx="177.50" cy="270.09" r="1.7" fill="#3b4b5f"/>
<circle cx="177.50" cy="267.15" r="1.7" fill="#3b4b5f"/>
<circle cx="177.50" cy="264.21" r="1.7" fill="#3b4b5f"/>
<circle cx="177.50" cy="261.26" r="1.7" fill="#3b4b5f"/>
<circle cx="177.50" cy="258.32" r="1.7" fill="#3b4b5f"/>
<circle cx="177.50" cy="255.38" r="1.7" fill="#3b4b5f"/>
<circle cx="177.50" cy="252.43" r="1.7" fill="#3b4b5f"/>
<circle cx="177.50" cy="249.49" r="1.7" fill="#3b4b5f"/>
<circle cx="177.50" cy="246.54" r="1.7" fill="#3b4b5f"/>
<circle cx="177.50" cy="243.60" r="1.7" fill="#3b4b5f"/>
<circle cx="181.90" cy="243.60" r="1.7" fill="#3b4b5f"/>
<circle cx="181.90" cy="241.70" r="1.7" fill="#3b4b5f"/>
<circle cx="186.70" cy="241.10" r="1.7" fill="#3b4b5f"/>
<circle cx="191.50" cy="240.70" r="1.7" fill="#3b4b5f"/>
<circle cx="191.50" cy="237.80" r="1.7" fill="#3b4b5f"/>
<circle cx="196.30" cy="238.80" r="1.7" fill="#3b4b5f"/>
<circle cx="196.30" cy="235.90" r="1.7" fill="#3b4b5f"/>
<circle cx="201.20" cy="235.50" r="1.7" fill="#3b4b5f"/>
<circle cx="206.00" cy="233.00" r="1.7" fill="#3b4b5f"/>
<circle cx="206.00" cy="230.10" r="1.7" fill="#3b4b5f"/>
<circle cx="206.00" cy="227.20" r="1.7" fill="#3b4b5f"/>
<circle cx="206.00" cy="224.30" r="1.7" fill="#3b4b5f"/>
<circle cx="210.80" cy="224.30" r="1.7" fill="#3b4b5f"/>
<circle cx="210.80" cy="221.45" r="1.7" fill="#3b4b5f"/>
<circle cx="210.80" cy="218.60" r="1.7" fill="#3b4b5f"/>
<circle cx="215.60" cy="218.00" r="1.7" fill="#3b4b5f"/>
<circle cx="220.40" cy="218.00" r="1.7" fill="#3b4b5f"/>
<circle cx="225.20" cy="218.00" r="1.7" fill="#3b4b5f"/>
<circle cx="230.00" cy="218.00" r="1.7" fill="#3b4b5f"/>
<circle cx="234.80" cy="218.00" r="1.7" fill="#3b4b5f"/>
<circle cx="239.60" cy="218.00" r="1.7" fill="#3b4b5f"/>
<line x1="158.50" y1="218.00" x2="173.49" y2="236.81" stroke="#2a6aa8" stroke-width="1.0" />
<polygon points="175.80,239.70 171.85,237.48 174.51,235.36" fill="#2a6aa8"/>
<line x1="158.50" y1="218.00" x2="166.14" y2="227.25" stroke="#cc1439" stroke-width="1.0" />
<polygon points="168.50,230.10 164.51,227.95 167.13,225.78" fill="#cc1439"/>
<text x="200.80" y="274.90" font-size="8.3" font-weight="normal" fill="#231f20" stroke="#231f20" stroke-width="0.18" textLength="46.70" lengthAdjust="spacingAndGlyphs">&gt;3,890 U/mL</text>
<text x="198.20" y="284.50" font-size="8.3" font-weight="normal" fill="#231f20" stroke="#231f20" stroke-width="0.18" textLength="51.00" lengthAdjust="spacingAndGlyphs">sensitivity 71%</text>
<text x="197.90" y="294.10" font-size="8.3" font-weight="normal" fill="#231f20" stroke="#231f20" stroke-width="0.18" textLength="51.30" lengthAdjust="spacingAndGlyphs">specificity 76%</text>
<text x="206.90" y="303.60" font-size="8.3" font-weight="normal" fill="#231f20" stroke="#231f20" stroke-width="0.18" textLength="33.70" lengthAdjust="spacingAndGlyphs">AUC 0.71</text>
<text transform="translate(140.00,281.20) rotate(-90)" x="0" y="0" font-size="10.2" fill="#231f20" stroke="#231f20" stroke-width="0.2" textLength="39.80" lengthAdjust="spacingAndGlyphs">Sensitivity%</text>
<text x="169.20" y="330.80" font-size="10.7" font-weight="normal" fill="#231f20" stroke="#231f20" stroke-width="0.18" textLength="63.90" lengthAdjust="spacingAndGlyphs">100% - Specificity%</text>
<line x1="283.50" y1="208.10" x2="283.50" y2="309.00" stroke="#231f20" stroke-width="1" />
<line x1="283.00" y1="308.50" x2="380.00" y2="308.50" stroke="#231f20" stroke-width="1" />
<line x1="281.30" y1="308.50" x2="283.50" y2="308.50" stroke="#231f20" stroke-width="1.0" />
<text x="279.30" y="311.25" font-size="7.9" fill="#231f20" stroke="#231f20" stroke-width="0.18" text-anchor="end" textLength="3.90" lengthAdjust="spacingAndGlyphs">0</text>
<line x1="283.50" y1="308.50" x2="283.50" y2="310.50" stroke="#231f20" stroke-width="1.0" />
<text x="283.50" y="320.00" font-size="7.9" font-weight="normal" fill="#231f20" stroke="#231f20" stroke-width="0.18" text-anchor="middle" textLength="3.90" lengthAdjust="spacingAndGlyphs">0</text>
<line x1="281.30" y1="289.26" x2="283.50" y2="289.26" stroke="#231f20" stroke-width="1.0" />
<text x="279.30" y="292.01" font-size="7.9" fill="#231f20" stroke="#231f20" stroke-width="0.18" text-anchor="end" textLength="7.80" lengthAdjust="spacingAndGlyphs">20</text>
<line x1="301.90" y1="308.50" x2="301.90" y2="310.50" stroke="#231f20" stroke-width="1.0" />
<text x="301.90" y="320.00" font-size="7.9" font-weight="normal" fill="#231f20" stroke="#231f20" stroke-width="0.18" text-anchor="middle" textLength="7.80" lengthAdjust="spacingAndGlyphs">20</text>
<line x1="281.30" y1="270.02" x2="283.50" y2="270.02" stroke="#231f20" stroke-width="1.0" />
<text x="279.30" y="272.77" font-size="7.9" fill="#231f20" stroke="#231f20" stroke-width="0.18" text-anchor="end" textLength="7.80" lengthAdjust="spacingAndGlyphs">40</text>
<line x1="320.30" y1="308.50" x2="320.30" y2="310.50" stroke="#231f20" stroke-width="1.0" />
<text x="320.30" y="320.00" font-size="7.9" font-weight="normal" fill="#231f20" stroke="#231f20" stroke-width="0.18" text-anchor="middle" textLength="7.80" lengthAdjust="spacingAndGlyphs">40</text>
<line x1="281.30" y1="250.78" x2="283.50" y2="250.78" stroke="#231f20" stroke-width="1.0" />
<text x="279.30" y="253.53" font-size="7.9" fill="#231f20" stroke="#231f20" stroke-width="0.18" text-anchor="end" textLength="7.80" lengthAdjust="spacingAndGlyphs">60</text>
<line x1="338.70" y1="308.50" x2="338.70" y2="310.50" stroke="#231f20" stroke-width="1.0" />
<text x="338.70" y="320.00" font-size="7.9" font-weight="normal" fill="#231f20" stroke="#231f20" stroke-width="0.18" text-anchor="middle" textLength="7.80" lengthAdjust="spacingAndGlyphs">60</text>
<line x1="281.30" y1="231.54" x2="283.50" y2="231.54" stroke="#231f20" stroke-width="1.0" />
<text x="279.30" y="234.29" font-size="7.9" fill="#231f20" stroke="#231f20" stroke-width="0.18" text-anchor="end" textLength="7.80" lengthAdjust="spacingAndGlyphs">80</text>
<line x1="357.10" y1="308.50" x2="357.10" y2="310.50" stroke="#231f20" stroke-width="1.0" />
<text x="357.10" y="320.00" font-size="7.9" font-weight="normal" fill="#231f20" stroke="#231f20" stroke-width="0.18" text-anchor="middle" textLength="7.80" lengthAdjust="spacingAndGlyphs">80</text>
<line x1="281.30" y1="212.30" x2="283.50" y2="212.30" stroke="#231f20" stroke-width="1.0" />
<text x="279.30" y="215.05" font-size="7.9" fill="#231f20" stroke="#231f20" stroke-width="0.18" text-anchor="end" textLength="11.70" lengthAdjust="spacingAndGlyphs">100</text>
<line x1="375.50" y1="308.50" x2="375.50" y2="310.50" stroke="#231f20" stroke-width="1.0" />
<text x="375.50" y="320.00" font-size="7.9" font-weight="normal" fill="#231f20" stroke="#231f20" stroke-width="0.18" text-anchor="middle" textLength="11.70" lengthAdjust="spacingAndGlyphs">100</text>
<text x="301.20" y="191.80" font-size="8.6" font-weight="bold" fill="#231f20" textLength="61.90" lengthAdjust="spacingAndGlyphs">Ferritin myeloid</text>
<text x="291.50" y="201.30" font-size="8.6" font-weight="bold" fill="#231f20" textLength="81.80" lengthAdjust="spacingAndGlyphs">HLH-2004 prediction</text>
<line x1="283.50" y1="308.50" x2="376.20" y2="215.30" stroke="#2266aa" stroke-width="1.2" stroke-dasharray="0.15 1.6" stroke-linecap="round"/>
<circle cx="287.70" cy="308.00" r="1.7" fill="#3b4b5f"/>
<circle cx="287.70" cy="305.12" r="1.7" fill="#3b4b5f"/>
<circle cx="287.70" cy="302.23" r="1.7" fill="#3b4b5f"/>
<circle cx="287.70" cy="299.35" r="1.7" fill="#3b4b5f"/>
<circle cx="287.70" cy="296.47" r="1.7" fill="#3b4b5f"/>
<circle cx="287.70" cy="293.58" r="1.7" fill="#3b4b5f"/>
<circle cx="287.70" cy="290.70" r="1.7" fill="#3b4b5f"/>
<circle cx="291.90" cy="291.70" r="1.7" fill="#3b4b5f"/>
<circle cx="291.90" cy="289.13" r="1.7" fill="#3b4b5f"/>
<circle cx="291.90" cy="286.57" r="1.7" fill="#3b4b5f"/>
<circle cx="291.90" cy="284.00" r="1.7" fill="#3b4b5f"/>
<circle cx="296.30" cy="285.00" r="1.7" fill="#3b4b5f"/>
<circle cx="296.30" cy="282.10" r="1.7" fill="#3b4b5f"/>
<circle cx="296.30" cy="279.20" r="1.7" fill="#3b4b5f"/>
<circle cx="296.30" cy="276.30" r="1.7" fill="#3b4b5f"/>
<circle cx="300.80" cy="277.20" r="1.7" fill="#3b4b5f"/>
<circle cx="300.80" cy="274.32" r="1.7" fill="#3b4b5f"/>
<circle cx="300.80" cy="271.44" r="1.7" fill="#3b4b5f"/>
<circle cx="300.80" cy="268.56" r="1.7" fill="#3b4b5f"/>
<circle cx="300.80" cy="265.68" r="1.7" fill="#3b4b5f"/>
<circle cx="300.80" cy="262.80" r="1.7" fill="#3b4b5f"/>
<circle cx="305.40" cy="263.80" r="1.7" fill="#3b4b5f"/>
<circle cx="305.40" cy="260.90" r="1.7" fill="#3b4b5f"/>
<circle cx="305.40" cy="258.00" r="1.7" fill="#3b4b5f"/>
<circle cx="305.40" cy="255.10" r="1.7" fill="#3b4b5f"/>
<circle cx="305.40" cy="252.20" r="1.7" fill="#3b4b5f"/>
<circle cx="305.40" cy="249.30" r="1.7" fill="#3b4b5f"/>
<circle cx="309.80" cy="250.30" r="1.7" fill="#3b4b5f"/>
<circle cx="309.80" cy="247.90" r="1.7" fill="#3b4b5f"/>
<circle cx="309.80" cy="245.50" r="1.7" fill="#3b4b5f"/>
<circle cx="314.20" cy="246.50" r="1.7" fill="#3b4b5f"/>
<circle cx="314.20" cy="243.60" r="1.7" fill="#3b4b5f"/>
<circle cx="314.20" cy="240.70" r="1.7" fill="#3b4b5f"/>
<circle cx="314.20" cy="237.80" r="1.7" fill="#3b4b5f"/>
<circle cx="314.20" cy="234.90" r="1.7" fill="#3b4b5f"/>
<circle cx="314.20" cy="232.00" r="1.7" fill="#3b4b5f"/>
<circle cx="318.80" cy="233.00" r="1.7" fill="#3b4b5f"/>
<circle cx="318.80" cy="230.12" r="1.7" fill="#3b4b5f"/>
<circle cx="318.80" cy="227.25" r="1.7" fill="#3b4b5f"/>
<circle cx="318.80" cy="224.38" r="1.7" fill="#3b4b5f"/>
<circle cx="318.80" cy="221.50" r="1.7" fill="#3b4b5f"/>
<circle cx="323.30" cy="222.00" r="1.7" fill="#3b4b5f"/>
<circle cx="327.70" cy="222.00" r="1.7" fill="#3b4b5f"/>
<circle cx="331.90" cy="222.00" r="1.7" fill="#3b4b5f"/>
<circle cx="331.90" cy="219.50" r="1.7" fill="#3b4b5f"/>
<circle cx="336.70" cy="218.60" r="1.7" fill="#3b4b5f"/>
<circle cx="341.18" cy="218.60" r="1.7" fill="#3b4b5f"/>
<circle cx="345.65" cy="218.60" r="1.7" fill="#3b4b5f"/>
<circle cx="350.12" cy="218.60" r="1.7" fill="#3b4b5f"/>
<circle cx="354.60" cy="218.60" r="1.7" fill="#3b4b5f"/>
<circle cx="358.80" cy="218.60" r="1.7" fill="#3b4b5f"/>
<circle cx="358.80" cy="216.00" r="1.7" fill="#3b4b5f"/>
<circle cx="363.00" cy="215.30" r="1.7" fill="#3b4b5f"/>
<circle cx="367.40" cy="215.30" r="1.7" fill="#3b4b5f"/>
<circle cx="371.80" cy="215.30" r="1.7" fill="#3b4b5f"/>
<circle cx="376.20" cy="215.30" r="1.7" fill="#3b4b5f"/>
<line x1="283.50" y1="213.80" x2="322.51" y2="216.91" stroke="#cc1439" stroke-width="1.0" />
<polygon points="326.20,217.20 321.88,218.56 322.15,215.17" fill="#cc1439"/>
<line x1="283.50" y1="215.70" x2="311.33" y2="219.41" stroke="#2a6aa8" stroke-width="1.0" />
<polygon points="315.00,219.90 310.61,221.03 311.06,217.66" fill="#2a6aa8"/>
<text x="327.20" y="270.10" font-size="8.3" font-weight="normal" fill="#231f20" stroke="#231f20" stroke-width="0.18" textLength="49.90" lengthAdjust="spacingAndGlyphs">&gt;1,435 ng/mL</text>
<text x="325.80" y="279.50" font-size="8.3" font-weight="normal" fill="#231f20" stroke="#231f20" stroke-width="0.18" textLength="51.90" lengthAdjust="spacingAndGlyphs">sensitivity 93%</text>
<text x="325.80" y="289.00" font-size="8.3" font-weight="normal" fill="#231f20" stroke="#231f20" stroke-width="0.18" textLength="51.90" lengthAdjust="spacingAndGlyphs">specificity 61%</text>
<text x="333.30" y="298.30" font-size="8.3" font-weight="normal" fill="#231f20" stroke="#231f20" stroke-width="0.18" textLength="37.40" lengthAdjust="spacingAndGlyphs">AUC=0.76</text>
<text transform="translate(265.00,281.20) rotate(-90)" x="0" y="0" font-size="10.2" fill="#231f20" stroke="#231f20" stroke-width="0.2" textLength="39.80" lengthAdjust="spacingAndGlyphs">Sensitivity%</text>
<text x="300.80" y="332.70" font-size="10.7" font-weight="normal" fill="#231f20" stroke="#231f20" stroke-width="0.18" textLength="63.40" lengthAdjust="spacingAndGlyphs">100% - Specificity%</text>
<line x1="414.00" y1="208.10" x2="414.00" y2="309.00" stroke="#231f20" stroke-width="1" />
<line x1="413.50" y1="308.50" x2="510.00" y2="308.50" stroke="#231f20" stroke-width="1" />
<line x1="411.80" y1="308.50" x2="414.00" y2="308.50" stroke="#231f20" stroke-width="1.0" />
<text x="409.80" y="311.25" font-size="7.9" fill="#231f20" stroke="#231f20" stroke-width="0.18" text-anchor="end" textLength="3.90" lengthAdjust="spacingAndGlyphs">0</text>
<line x1="414.00" y1="308.50" x2="414.00" y2="310.50" stroke="#231f20" stroke-width="1.0" />
<text x="414.00" y="320.00" font-size="7.9" font-weight="normal" fill="#231f20" stroke="#231f20" stroke-width="0.18" text-anchor="middle" textLength="3.90" lengthAdjust="spacingAndGlyphs">0</text>
<line x1="411.80" y1="289.26" x2="414.00" y2="289.26" stroke="#231f20" stroke-width="1.0" />
<text x="409.80" y="292.01" font-size="7.9" fill="#231f20" stroke="#231f20" stroke-width="0.18" text-anchor="end" textLength="7.80" lengthAdjust="spacingAndGlyphs">20</text>
<line x1="432.20" y1="308.50" x2="432.20" y2="310.50" stroke="#231f20" stroke-width="1.0" />
<text x="432.20" y="320.00" font-size="7.9" font-weight="normal" fill="#231f20" stroke="#231f20" stroke-width="0.18" text-anchor="middle" textLength="7.80" lengthAdjust="spacingAndGlyphs">20</text>
<line x1="411.80" y1="270.02" x2="414.00" y2="270.02" stroke="#231f20" stroke-width="1.0" />
<text x="409.80" y="272.77" font-size="7.9" fill="#231f20" stroke="#231f20" stroke-width="0.18" text-anchor="end" textLength="7.80" lengthAdjust="spacingAndGlyphs">40</text>
<line x1="450.40" y1="308.50" x2="450.40" y2="310.50" stroke="#231f20" stroke-width="1.0" />
<text x="450.40" y="320.00" font-size="7.9" font-weight="normal" fill="#231f20" stroke="#231f20" stroke-width="0.18" text-anchor="middle" textLength="7.80" lengthAdjust="spacingAndGlyphs">40</text>
<line x1="411.80" y1="250.78" x2="414.00" y2="250.78" stroke="#231f20" stroke-width="1.0" />
<text x="409.80" y="253.53" font-size="7.9" fill="#231f20" stroke="#231f20" stroke-width="0.18" text-anchor="end" textLength="7.80" lengthAdjust="spacingAndGlyphs">60</text>
<line x1="468.60" y1="308.50" x2="468.60" y2="310.50" stroke="#231f20" stroke-width="1.0" />
<text x="468.60" y="320.00" font-size="7.9" font-weight="normal" fill="#231f20" stroke="#231f20" stroke-width="0.18" text-anchor="middle" textLength="7.80" lengthAdjust="spacingAndGlyphs">60</text>
<line x1="411.80" y1="231.54" x2="414.00" y2="231.54" stroke="#231f20" stroke-width="1.0" />
<text x="409.80" y="234.29" font-size="7.9" fill="#231f20" stroke="#231f20" stroke-width="0.18" text-anchor="end" textLength="7.80" lengthAdjust="spacingAndGlyphs">80</text>
<line x1="486.80" y1="308.50" x2="486.80" y2="310.50" stroke="#231f20" stroke-width="1.0" />
<text x="486.80" y="320.00" font-size="7.9" font-weight="normal" fill="#231f20" stroke="#231f20" stroke-width="0.18" text-anchor="middle" textLength="7.80" lengthAdjust="spacingAndGlyphs">80</text>
<line x1="411.80" y1="212.30" x2="414.00" y2="212.30" stroke="#231f20" stroke-width="1.0" />
<text x="409.80" y="215.05" font-size="7.9" fill="#231f20" stroke="#231f20" stroke-width="0.18" text-anchor="end" textLength="11.70" lengthAdjust="spacingAndGlyphs">100</text>
<line x1="505.00" y1="308.50" x2="505.00" y2="310.50" stroke="#231f20" stroke-width="1.0" />
<text x="505.00" y="320.00" font-size="7.9" font-weight="normal" fill="#231f20" stroke="#231f20" stroke-width="0.18" text-anchor="middle" textLength="11.70" lengthAdjust="spacingAndGlyphs">100</text>
<text x="431.20" y="191.80" font-size="8.6" font-weight="bold" fill="#231f20" textLength="61.90" lengthAdjust="spacingAndGlyphs">Ferritin myeloid</text>
<text x="423.50" y="201.30" font-size="8.6" font-weight="bold" fill="#231f20" textLength="77.80" lengthAdjust="spacingAndGlyphs">mortality prediction</text>
<line x1="414.00" y1="308.50" x2="504.20" y2="217.60" stroke="#2266aa" stroke-width="1.2" stroke-dasharray="0.15 1.6" stroke-linecap="round"/>
<circle cx="413.80" cy="308.00" r="1.7" fill="#3b4b5f"/>
<circle cx="413.80" cy="304.88" r="1.7" fill="#3b4b5f"/>
<circle cx="413.80" cy="301.75" r="1.7" fill="#3b4b5f"/>
<circle cx="413.80" cy="298.62" r="1.7" fill="#3b4b5f"/>
<circle cx="413.80" cy="295.50" r="1.7" fill="#3b4b5f"/>
<circle cx="419.20" cy="297.40" r="1.7" fill="#3b4b5f"/>
<circle cx="419.20" cy="294.50" r="1.7" fill="#3b4b5f"/>
<circle cx="424.40" cy="292.60" r="1.7" fill="#3b4b5f"/>
<circle cx="424.40" cy="289.70" r="1.7" fill="#3b4b5f"/>
<circle cx="429.60" cy="290.70" r="1.7" fill="#3b4b5f"/>
<circle cx="429.60" cy="287.65" r="1.7" fill="#3b4b5f"/>
<circle cx="429.60" cy="284.60" r="1.7" fill="#3b4b5f"/>
<circle cx="429.60" cy="281.55" r="1.7" fill="#3b4b5f"/>
<circle cx="429.60" cy="278.50" r="1.7" fill="#3b4b5f"/>
<circle cx="429.60" cy="275.45" r="1.7" fill="#3b4b5f"/>
<circle cx="429.60" cy="272.40" r="1.7" fill="#3b4b5f"/>
<circle cx="435.00" cy="273.40" r="1.7" fill="#3b4b5f"/>
<circle cx="435.00" cy="270.37" r="1.7" fill="#3b4b5f"/>
<circle cx="435.00" cy="267.34" r="1.7" fill="#3b4b5f"/>
<circle cx="435.00" cy="264.31" r="1.7" fill="#3b4b5f"/>
<circle cx="435.00" cy="261.28" r="1.7" fill="#3b4b5f"/>
<circle cx="435.00" cy="258.25" r="1.7" fill="#3b4b5f"/>
<circle cx="435.00" cy="255.22" r="1.7" fill="#3b4b5f"/>
<circle cx="435.00" cy="252.18" r="1.7" fill="#3b4b5f"/>
<circle cx="435.00" cy="249.15" r="1.7" fill="#3b4b5f"/>
<circle cx="435.00" cy="246.12" r="1.7" fill="#3b4b5f"/>
<circle cx="435.00" cy="243.09" r="1.7" fill="#3b4b5f"/>
<circle cx="435.00" cy="240.06" r="1.7" fill="#3b4b5f"/>
<circle cx="435.00" cy="237.03" r="1.7" fill="#3b4b5f"/>
<circle cx="435.00" cy="234.00" r="1.7" fill="#3b4b5f"/>
<circle cx="440.40" cy="235.90" r="1.7" fill="#3b4b5f"/>
<circle cx="440.40" cy="232.78" r="1.7" fill="#3b4b5f"/>
<circle cx="440.40" cy="229.65" r="1.7" fill="#3b4b5f"/>
<circle cx="440.40" cy="226.53" r="1.7" fill="#3b4b5f"/>
<circle cx="440.40" cy="223.40" r="1.7" fill="#3b4b5f"/>
<circle cx="445.60" cy="223.40" r="1.7" fill="#3b4b5f"/>
<circle cx="450.80" cy="224.30" r="1.7" fill="#3b4b5f"/>
<circle cx="450.80" cy="221.50" r="1.7" fill="#3b4b5f"/>
<circle cx="456.20" cy="221.10" r="1.7" fill="#3b4b5f"/>
<circle cx="456.20" cy="218.60" r="1.7" fill="#3b4b5f"/>
<circle cx="461.50" cy="217.60" r="1.7" fill="#3b4b5f"/>
<circle cx="466.84" cy="217.60" r="1.7" fill="#3b4b5f"/>
<circle cx="472.18" cy="217.60" r="1.7" fill="#3b4b5f"/>
<circle cx="477.51" cy="217.60" r="1.7" fill="#3b4b5f"/>
<circle cx="482.85" cy="217.60" r="1.7" fill="#3b4b5f"/>
<circle cx="488.19" cy="217.60" r="1.7" fill="#3b4b5f"/>
<circle cx="493.52" cy="217.60" r="1.7" fill="#3b4b5f"/>
<circle cx="498.86" cy="217.60" r="1.7" fill="#3b4b5f"/>
<circle cx="504.20" cy="217.60" r="1.7" fill="#3b4b5f"/>
<line x1="415.80" y1="217.20" x2="441.32" y2="219.56" stroke="#cc1439" stroke-width="1.0" />
<polygon points="445.00,219.90 440.66,221.21 440.97,217.82" fill="#cc1439"/>
<line x1="415.80" y1="217.20" x2="434.93" y2="222.43" stroke="#2a6aa8" stroke-width="1.0" />
<polygon points="438.50,223.40 434.00,223.93 434.90,220.65" fill="#2a6aa8"/>
<text x="457.20" y="273.50" font-size="8.3" font-weight="normal" fill="#231f20" stroke="#231f20" stroke-width="0.18" textLength="49.90" lengthAdjust="spacingAndGlyphs">&gt;1,342 ng/mL</text>
<text x="455.80" y="283.10" font-size="8.3" font-weight="normal" fill="#231f20" stroke="#231f20" stroke-width="0.18" textLength="51.90" lengthAdjust="spacingAndGlyphs">sensitivity 94%</text>
<text x="455.80" y="292.60" font-size="8.3" font-weight="normal" fill="#231f20" stroke="#231f20" stroke-width="0.18" textLength="51.90" lengthAdjust="spacingAndGlyphs">specificity 71%</text>
<text x="467.30" y="302.10" font-size="8.3" font-weight="normal" fill="#231f20" stroke="#231f20" stroke-width="0.18" textLength="30.00" lengthAdjust="spacingAndGlyphs">AUC 0.8</text>
<text transform="translate(394.30,281.20) rotate(-90)" x="0" y="0" font-size="10.2" fill="#231f20" stroke="#231f20" stroke-width="0.2" textLength="39.80" lengthAdjust="spacingAndGlyphs">Sensitivity%</text>
<text x="430.80" y="332.70" font-size="10.7" font-weight="normal" fill="#231f20" stroke="#231f20" stroke-width="0.18" textLength="63.40" lengthAdjust="spacingAndGlyphs">100% - Specificity%</text>
<text x="74.50" y="363.10" font-size="9.9" font-weight="bold" fill="#231f20" textLength="371.10" lengthAdjust="spacingAndGlyphs">Survival of patients with lymphoid/myeloid neoplasms classified by different indices</text>
<text x="6.90" y="382.00" font-size="11.7" font-weight="bold" fill="#231f20" stroke="#231f20" stroke-width="0.6" textLength="7.50" lengthAdjust="spacingAndGlyphs">C</text>
<line x1="33.40" y1="383.30" x2="33.40" y2="555.10" stroke="#231f20" stroke-width="1.1" />
<line x1="32.90" y1="554.60" x2="235.50" y2="554.60" stroke="#231f20" stroke-width="1.3" />
<line x1="31.20" y1="554.60" x2="33.40" y2="554.60" stroke="#231f20" stroke-width="0.9" />
<text x="29.60" y="557.55" font-size="8.4" fill="#231f20" stroke="#231f20" stroke-width="0.18" text-anchor="end" textLength="4.20" lengthAdjust="spacingAndGlyphs">0</text>
<line x1="31.20" y1="537.85" x2="33.40" y2="537.85" stroke="#231f20" stroke-width="0.9" />
<text x="29.60" y="540.80" font-size="8.4" fill="#231f20" stroke="#231f20" stroke-width="0.18" text-anchor="end" textLength="8.40" lengthAdjust="spacingAndGlyphs">10</text>
<line x1="31.20" y1="521.10" x2="33.40" y2="521.10" stroke="#231f20" stroke-width="0.9" />
<text x="29.60" y="524.05" font-size="8.4" fill="#231f20" stroke="#231f20" stroke-width="0.18" text-anchor="end" textLength="8.40" lengthAdjust="spacingAndGlyphs">20</text>
<line x1="31.20" y1="504.35" x2="33.40" y2="504.35" stroke="#231f20" stroke-width="0.9" />
<text x="29.60" y="507.30" font-size="8.4" fill="#231f20" stroke="#231f20" stroke-width="0.18" text-anchor="end" textLength="8.40" lengthAdjust="spacingAndGlyphs">30</text>
<line x1="31.20" y1="487.60" x2="33.40" y2="487.60" stroke="#231f20" stroke-width="0.9" />
<text x="29.60" y="490.55" font-size="8.4" fill="#231f20" stroke="#231f20" stroke-width="0.18" text-anchor="end" textLength="8.40" lengthAdjust="spacingAndGlyphs">40</text>
<line x1="31.20" y1="470.85" x2="33.40" y2="470.85" stroke="#231f20" stroke-width="0.9" />
<text x="29.60" y="473.80" font-size="8.4" fill="#231f20" stroke="#231f20" stroke-width="0.18" text-anchor="end" textLength="8.40" lengthAdjust="spacingAndGlyphs">50</text>
<line x1="31.20" y1="454.10" x2="33.40" y2="454.10" stroke="#231f20" stroke-width="0.9" />
<text x="29.60" y="457.05" font-size="8.4" fill="#231f20" stroke="#231f20" stroke-width="0.18" text-anchor="end" textLength="8.40" lengthAdjust="spacingAndGlyphs">60</text>
<line x1="31.20" y1="437.35" x2="33.40" y2="437.35" stroke="#231f20" stroke-width="0.9" />
<text x="29.60" y="440.30" font-size="8.4" fill="#231f20" stroke="#231f20" stroke-width="0.18" text-anchor="end" textLength="8.40" lengthAdjust="spacingAndGlyphs">70</text>
<line x1="31.20" y1="420.60" x2="33.40" y2="420.60" stroke="#231f20" stroke-width="0.9" />
<text x="29.60" y="423.55" font-size="8.4" fill="#231f20" stroke="#231f20" stroke-width="0.18" text-anchor="end" textLength="8.40" lengthAdjust="spacingAndGlyphs">80</text>
<line x1="31.20" y1="403.85" x2="33.40" y2="403.85" stroke="#231f20" stroke-width="0.9" />
<text x="29.60" y="406.80" font-size="8.4" fill="#231f20" stroke="#231f20" stroke-width="0.18" text-anchor="end" textLength="8.40" lengthAdjust="spacingAndGlyphs">90</text>
<line x1="31.20" y1="387.10" x2="33.40" y2="387.10" stroke="#231f20" stroke-width="0.9" />
<text x="29.60" y="390.05" font-size="8.4" fill="#231f20" stroke="#231f20" stroke-width="0.18" text-anchor="end" textLength="12.60" lengthAdjust="spacingAndGlyphs">100</text>
<line x1="33.40" y1="554.60" x2="33.40" y2="556.80" stroke="#231f20" stroke-width="0.9" />
<text x="33.40" y="567.00" font-size="8.4" font-weight="normal" fill="#231f20" stroke="#231f20" stroke-width="0.18" text-anchor="middle" textLength="4.20" lengthAdjust="spacingAndGlyphs">0</text>
<line x1="73.04" y1="554.60" x2="73.04" y2="556.80" stroke="#231f20" stroke-width="0.9" />
<text x="73.04" y="567.00" font-size="8.4" font-weight="normal" fill="#231f20" stroke="#231f20" stroke-width="0.18" text-anchor="middle" textLength="12.60" lengthAdjust="spacingAndGlyphs">100</text>
<line x1="112.68" y1="554.60" x2="112.68" y2="556.80" stroke="#231f20" stroke-width="0.9" />
<text x="112.68" y="567.00" font-size="8.4" font-weight="normal" fill="#231f20" stroke="#231f20" stroke-width="0.18" text-anchor="middle" textLength="12.60" lengthAdjust="spacingAndGlyphs">200</text>
<line x1="152.32" y1="554.60" x2="152.32" y2="556.80" stroke="#231f20" stroke-width="0.9" />
<text x="152.32" y="567.00" font-size="8.4" font-weight="normal" fill="#231f20" stroke="#231f20" stroke-width="0.18" text-anchor="middle" textLength="12.60" lengthAdjust="spacingAndGlyphs">300</text>
<line x1="191.96" y1="554.60" x2="191.96" y2="556.80" stroke="#231f20" stroke-width="0.9" />
<text x="191.96" y="567.00" font-size="8.4" font-weight="normal" fill="#231f20" stroke="#231f20" stroke-width="0.18" text-anchor="middle" textLength="12.60" lengthAdjust="spacingAndGlyphs">400</text>
<line x1="231.60" y1="554.60" x2="231.60" y2="556.80" stroke="#231f20" stroke-width="0.9" />
<text x="231.60" y="567.00" font-size="8.4" font-weight="normal" fill="#231f20" stroke="#231f20" stroke-width="0.18" text-anchor="middle" textLength="12.60" lengthAdjust="spacingAndGlyphs">500</text>
<text transform="translate(14.50,504.50) rotate(-90)" x="0" y="0" font-size="10.2" fill="#231f20" stroke="#231f20" stroke-width="0.2" textLength="71.10" lengthAdjust="spacingAndGlyphs">Probability of survival</text>
<text x="86.00" y="580.50" font-size="10.1" font-weight="normal" fill="#231f20" stroke="#231f20" stroke-width="0.18" textLength="96.90" lengthAdjust="spacingAndGlyphs">Days from initial presentation</text>
<polyline points="33.50,391.00 34.80,399.20 36.70,408.80 38.70,418.50 40.60,429.00 45.40,428.00 49.20,432.90 53.10,436.70 58.80,439.60 58.80,448.30 63.70,452.10 67.50,457.90 70.00,458.70 76.70,472.10 83.50,477.90 86.30,482.70 90.20,485.60 94.00,489.40 103.70,489.40 105.60,494.20 112.30,497.10 112.30,502.90 118.10,504.80 123.80,507.70 128.70,511.50 144.00,512.50 150.80,515.00 176.30,514.60 176.30,517.10 186.00,517.10 186.00,519.60 196.50,519.60 198.50,523.80 201.30,525.80 232.10,525.80" fill="none" stroke="#cc1439" stroke-width="1.2" stroke-linejoin="round" stroke-dasharray="2 1.5"/>
<polyline points="33.50,391.00 34.80,399.20 36.70,408.80 38.70,418.50 40.60,429.00 45.40,428.00 49.20,432.90 53.10,436.70 58.80,439.60 58.80,448.30 63.70,452.10 67.50,457.90 71.30,462.70 73.80,468.30 77.70,470.80 82.50,471.50 84.40,476.00 87.30,478.80 91.20,481.70 94.00,485.60 103.70,486.20 104.60,490.40 112.30,490.80 112.30,496.20 118.10,498.50 124.80,501.00 128.70,502.90 133.50,502.90 144.00,505.20 186.00,506.00 186.90,507.50 196.50,507.90 197.50,510.40 200.40,514.20 201.30,515.20 232.10,515.20" fill="none" stroke="#1f5c99" stroke-width="1.2" stroke-linejoin="round" stroke-dasharray="2 1.5"/>
<polyline points="33.50,388.00 38.70,389.60 41.50,394.40 47.30,398.30 53.10,402.10 58.80,406.90 64.60,410.80 68.50,413.70 70.40,414.20 81.90,415.60 91.50,418.50 103.10,421.30 164.40,421.50 164.40,423.90 233.10,423.90" fill="none" stroke="#cc1439" stroke-width="1.3" stroke-linejoin="round" />
<polyline points="33.50,388.00 38.70,389.60 41.50,394.40 47.30,398.30 53.10,402.10 58.80,406.90 64.60,410.80 68.50,413.70 70.40,416.50 75.20,421.30 83.80,426.20 91.50,429.60 99.20,430.00 106.90,433.80 112.70,436.20 122.30,437.50 150.50,437.50 150.50,440.00 164.50,440.00 164.50,442.50 176.30,442.50 176.30,445.20 233.10,445.20" fill="none" stroke="#1f5c99" stroke-width="1.3" stroke-linejoin="round" />
<polygon points="36.50,392.28 34.60,388.48 38.40,388.48" fill="#cc1439"/>
<polygon points="41.00,395.28 39.10,391.48 42.90,391.48" fill="#cc1439"/>
<polygon points="53.00,403.78 51.10,399.98 54.90,399.98" fill="#cc1439"/>
<polygon points="70.40,416.48 68.50,412.68 72.30,412.68" fill="#cc1439"/>
<polygon points="81.90,417.88 80.00,414.08 83.80,414.08" fill="#cc1439"/>
<polygon points="91.00,420.28 89.10,416.48 92.90,416.48" fill="#cc1439"/>
<polygon points="94.00,421.28 92.10,417.48 95.90,417.48" fill="#cc1439"/>
<polygon points="103.10,423.58 101.20,419.78 105.00,419.78" fill="#cc1439"/>
<polygon points="112.70,423.58 110.80,419.78 114.60,419.78" fill="#cc1439"/>
<polygon points="124.00,423.58 122.10,419.78 125.90,419.78" fill="#cc1439"/>
<polygon points="137.50,423.78 135.60,419.98 139.40,419.98" fill="#cc1439"/>
<polygon points="153.20,423.78 151.30,419.98 155.10,419.98" fill="#cc1439"/>
<polygon points="161.20,423.78 159.30,419.98 163.10,419.98" fill="#cc1439"/>
<polygon points="164.80,426.18 162.90,422.38 166.70,422.38" fill="#cc1439"/>
<polygon points="192.70,426.28 190.80,422.48 194.60,422.48" fill="#cc1439"/>
<polygon points="194.60,426.28 192.70,422.48 196.50,422.48" fill="#cc1439"/>
<polygon points="196.50,426.28 194.60,422.48 198.40,422.48" fill="#cc1439"/>
<polygon points="205.20,426.28 203.30,422.48 207.10,422.48" fill="#cc1439"/>
<polygon points="210.40,426.28 208.50,422.48 212.30,422.48" fill="#cc1439"/>
<polygon points="212.30,426.28 210.40,422.48 214.20,422.48" fill="#cc1439"/>
<polygon points="217.30,426.28 215.40,422.48 219.20,422.48" fill="#cc1439"/>
<polygon points="225.40,426.28 223.50,422.48 227.30,422.48" fill="#cc1439"/>
<polygon points="227.70,426.28 225.80,422.48 229.60,422.48" fill="#cc1439"/>
<polygon points="232.10,426.28 230.20,422.48 234.00,422.48" fill="#cc1439"/>
<rect x="33.00" y="387.00" width="3.0" height="3.0" fill="#1f5c99"/>
<rect x="36.50" y="387.50" width="3.0" height="3.0" fill="#1f5c99"/>
<rect x="40.00" y="392.90" width="3.0" height="3.0" fill="#1f5c99"/>
<rect x="45.50" y="396.50" width="3.0" height="3.0" fill="#1f5c99"/>
<rect x="51.50" y="400.50" width="3.0" height="3.0" fill="#1f5c99"/>
<rect x="54.50" y="402.50" width="3.0" height="3.0" fill="#1f5c99"/>
<rect x="57.50" y="405.50" width="3.0" height="3.0" fill="#1f5c99"/>
<rect x="63.10" y="409.30" width="3.0" height="3.0" fill="#1f5c99"/>
<rect x="68.90" y="415.00" width="3.0" height="3.0" fill="#1f5c99"/>
<rect x="71.50" y="416.50" width="3.0" height="3.0" fill="#1f5c99"/>
<rect x="73.70" y="419.80" width="3.0" height="3.0" fill="#1f5c99"/>
<rect x="82.30" y="424.70" width="3.0" height="3.0" fill="#1f5c99"/>
<rect x="88.50" y="426.50" width="3.0" height="3.0" fill="#1f5c99"/>
<rect x="90.00" y="428.10" width="3.0" height="3.0" fill="#1f5c99"/>
<rect x="95.50" y="428.50" width="3.0" height="3.0" fill="#1f5c99"/>
<rect x="97.70" y="428.50" width="3.0" height="3.0" fill="#1f5c99"/>
<rect x="105.40" y="432.30" width="3.0" height="3.0" fill="#1f5c99"/>
<rect x="111.20" y="434.70" width="3.0" height="3.0" fill="#1f5c99"/>
<rect x="116.50" y="436.20" width="3.0" height="3.0" fill="#1f5c99"/>
<rect x="120.80" y="436.20" width="3.0" height="3.0" fill="#1f5c99"/>
<rect x="134.50" y="437.00" width="3.0" height="3.0" fill="#1f5c99"/>
<rect x="136.00" y="436.00" width="3.0" height="3.0" fill="#1f5c99"/>
<rect x="149.80" y="438.50" width="3.0" height="3.0" fill="#1f5c99"/>
<rect x="152.20" y="438.50" width="3.0" height="3.0" fill="#1f5c99"/>
<rect x="159.70" y="438.50" width="3.0" height="3.0" fill="#1f5c99"/>
<rect x="164.00" y="441.00" width="3.0" height="3.0" fill="#1f5c99"/>
<rect x="174.80" y="443.70" width="3.0" height="3.0" fill="#1f5c99"/>
<rect x="190.20" y="443.70" width="3.0" height="3.0" fill="#1f5c99"/>
<rect x="194.10" y="443.70" width="3.0" height="3.0" fill="#1f5c99"/>
<rect x="203.70" y="443.70" width="3.0" height="3.0" fill="#1f5c99"/>
<rect x="208.50" y="443.70" width="3.0" height="3.0" fill="#1f5c99"/>
<rect x="210.40" y="443.70" width="3.0" height="3.0" fill="#1f5c99"/>
<rect x="215.80" y="443.70" width="3.0" height="3.0" fill="#1f5c99"/>
<rect x="225.80" y="443.70" width="3.0" height="3.0" fill="#1f5c99"/>
<rect x="227.70" y="443.70" width="3.0" height="3.0" fill="#1f5c99"/>
<rect x="230.60" y="443.70" width="3.0" height="3.0" fill="#1f5c99"/>
<polygon points="34.50,393.72 32.60,397.52 36.40,397.52" fill="#cc1439"/>
<polygon points="35.50,399.72 33.60,403.52 37.40,403.52" fill="#cc1439"/>
<polygon points="37.00,407.72 35.10,411.52 38.90,411.52" fill="#cc1439"/>
<polygon points="38.50,413.72 36.60,417.52 40.40,417.52" fill="#cc1439"/>
<polygon points="40.00,420.72 38.10,424.52 41.90,424.52" fill="#cc1439"/>
<polygon points="46.00,426.72 44.10,430.52 47.90,430.52" fill="#cc1439"/>
<polygon points="49.00,430.72 47.10,434.52 50.90,434.52" fill="#cc1439"/>
<polygon points="53.00,434.72 51.10,438.52 54.90,438.52" fill="#cc1439"/>
<polygon points="58.00,441.72 56.10,445.52 59.90,445.52" fill="#cc1439"/>
<polygon points="59.00,445.72 57.10,449.52 60.90,449.52" fill="#cc1439"/>
<polygon points="63.70,449.82 61.80,453.62 65.60,453.62" fill="#cc1439"/>
<polygon points="67.50,455.62 65.60,459.42 69.40,459.42" fill="#cc1439"/>
<polygon points="70.00,456.42 68.10,460.22 71.90,460.22" fill="#cc1439"/>
<polygon points="73.00,462.72 71.10,466.52 74.90,466.52" fill="#cc1439"/>
<polygon points="76.70,469.82 74.80,473.62 78.60,473.62" fill="#cc1439"/>
<polygon points="80.00,471.72 78.10,475.52 81.90,475.52" fill="#cc1439"/>
<polygon points="83.50,475.62 81.60,479.42 85.40,479.42" fill="#cc1439"/>
<polygon points="86.30,480.42 84.40,484.22 88.20,484.22" fill="#cc1439"/>
<polygon points="90.20,483.32 88.30,487.12 92.10,487.12" fill="#cc1439"/>
<polygon points="94.00,487.12 92.10,490.92 95.90,490.92" fill="#cc1439"/>
<polygon points="105.60,491.92 103.70,495.72 107.50,495.72" fill="#cc1439"/>
<polygon points="108.00,492.72 106.10,496.52 109.90,496.52" fill="#cc1439"/>
<polygon points="112.30,500.62 110.40,504.42 114.20,504.42" fill="#cc1439"/>
<polygon points="118.10,502.52 116.20,506.32 120.00,506.32" fill="#cc1439"/>
<polygon points="123.80,505.42 121.90,509.22 125.70,509.22" fill="#cc1439"/>
<polygon points="126.00,506.72 124.10,510.52 127.90,510.52" fill="#cc1439"/>
<polygon points="128.70,509.22 126.80,513.02 130.60,513.02" fill="#cc1439"/>
<polygon points="131.00,509.22 129.10,513.02 132.90,513.02" fill="#cc1439"/>
<polygon points="144.00,510.22 142.10,514.02 145.90,514.02" fill="#cc1439"/>
<polygon points="150.80,512.72 148.90,516.52 152.70,516.52" fill="#cc1439"/>
<polygon points="176.30,514.82 174.40,518.62 178.20,518.62" fill="#cc1439"/>
<polygon points="186.00,517.32 184.10,521.12 187.90,521.12" fill="#cc1439"/>
<polygon points="198.50,521.52 196.60,525.32 200.40,525.32" fill="#cc1439"/>
<polygon points="201.30,523.52 199.40,527.32 203.20,527.32" fill="#cc1439"/>
<polygon points="219.60,523.52 217.70,527.32 221.50,527.32" fill="#cc1439"/>
<polygon points="232.10,523.52 230.20,527.32 234.00,527.32" fill="#cc1439"/>
<circle cx="34.00" cy="394.00" r="1.75" fill="#1f5c99"/>
<circle cx="35.00" cy="400.00" r="1.75" fill="#1f5c99"/>
<circle cx="36.00" cy="405.00" r="1.75" fill="#1f5c99"/>
<circle cx="37.00" cy="411.00" r="1.75" fill="#1f5c99"/>
<circle cx="38.00" cy="415.00" r="1.75" fill="#1f5c99"/>
<circle cx="39.00" cy="421.00" r="1.75" fill="#1f5c99"/>
<circle cx="40.00" cy="425.00" r="1.75" fill="#1f5c99"/>
<circle cx="41.00" cy="428.50" r="1.75" fill="#1f5c99"/>
<circle cx="45.00" cy="428.00" r="1.75" fill="#1f5c99"/>
<circle cx="47.00" cy="430.00" r="1.75" fill="#1f5c99"/>
<circle cx="49.20" cy="432.90" r="1.75" fill="#1f5c99"/>
<circle cx="53.10" cy="436.70" r="1.75" fill="#1f5c99"/>
<circle cx="56.00" cy="438.00" r="1.75" fill="#1f5c99"/>
<circle cx="58.80" cy="442.00" r="1.75" fill="#1f5c99"/>
<circle cx="59.00" cy="446.00" r="1.75" fill="#1f5c99"/>
<circle cx="62.00" cy="450.00" r="1.75" fill="#1f5c99"/>
<circle cx="64.00" cy="453.00" r="1.75" fill="#1f5c99"/>
<circle cx="66.00" cy="455.00" r="1.75" fill="#1f5c99"/>
<circle cx="69.00" cy="460.00" r="1.75" fill="#1f5c99"/>
<circle cx="71.00" cy="461.50" r="1.75" fill="#1f5c99"/>
<circle cx="72.50" cy="465.00" r="1.75" fill="#1f5c99"/>
<circle cx="73.80" cy="468.30" r="1.75" fill="#1f5c99"/>
<circle cx="77.70" cy="470.80" r="1.75" fill="#1f5c99"/>
<circle cx="82.50" cy="472.50" r="1.75" fill="#1f5c99"/>
<circle cx="84.00" cy="474.00" r="1.75" fill="#1f5c99"/>
<circle cx="85.00" cy="476.00" r="1.75" fill="#1f5c99"/>
<circle cx="87.30" cy="478.80" r="1.75" fill="#1f5c99"/>
<circle cx="89.00" cy="480.00" r="1.75" fill="#1f5c99"/>
<circle cx="91.20" cy="481.70" r="1.75" fill="#1f5c99"/>
<circle cx="93.00" cy="484.00" r="1.75" fill="#1f5c99"/>
<circle cx="94.00" cy="485.60" r="1.75" fill="#1f5c99"/>
<circle cx="103.70" cy="486.20" r="1.75" fill="#1f5c99"/>
<circle cx="104.60" cy="489.00" r="1.75" fill="#1f5c99"/>
<circle cx="112.30" cy="495.00" r="1.75" fill="#1f5c99"/>
<circle cx="118.10" cy="498.50" r="1.75" fill="#1f5c99"/>
<circle cx="121.00" cy="499.50" r="1.75" fill="#1f5c99"/>
<circle cx="124.80" cy="501.00" r="1.75" fill="#1f5c99"/>
<circle cx="128.70" cy="502.90" r="1.75" fill="#1f5c99"/>
<circle cx="133.50" cy="502.90" r="1.75" fill="#1f5c99"/>
<circle cx="144.00" cy="505.20" r="1.75" fill="#1f5c99"/>
<circle cx="186.90" cy="507.50" r="1.75" fill="#1f5c99"/>
<circle cx="197.50" cy="509.50" r="1.75" fill="#1f5c99"/>
<circle cx="199.00" cy="512.00" r="1.75" fill="#1f5c99"/>
<circle cx="201.30" cy="515.20" r="1.75" fill="#1f5c99"/>
<circle cx="219.60" cy="515.20" r="1.75" fill="#1f5c99"/>
<circle cx="226.30" cy="515.20" r="1.75" fill="#1f5c99"/>
<circle cx="232.10" cy="515.20" r="1.75" fill="#1f5c99"/>
<polyline points="247.50,424.00 257.50,424.00 257.50,525.60 247.50,525.60" fill="none" stroke="#231f20" stroke-width="0.9" stroke-linejoin="round" />
<polyline points="249.40,445.00 253.50,445.00 253.50,515.20 249.40,515.20" fill="none" stroke="#231f20" stroke-width="0.9" stroke-linejoin="round" />
<text x="245.80" y="439.60" font-size="8.5" font-weight="bold" fill="#231f20" text-anchor="middle" textLength="14.50" lengthAdjust="spacingAndGlyphs">****</text>
<text x="243.60" y="482.20" font-size="8.5" font-weight="bold" fill="#231f20" text-anchor="middle" textLength="14.50" lengthAdjust="spacingAndGlyphs">****</text>
<line x1="34.20" y1="601.70" x2="45.80" y2="601.70" stroke="#1f5c99" stroke-width="1.2" />
<circle cx="39.80" cy="601.70" r="1.9" fill="#1f5c99"/>
<text x="49.20" y="603.50" font-size="8.1" font-weight="normal" fill="#231f20" stroke="#231f20" stroke-width="0.18" textLength="75.60" lengthAdjust="spacingAndGlyphs">Lymphoma HLH-2004–</text>
<line x1="34.20" y1="614.80" x2="45.80" y2="614.80" stroke="#1f5c99" stroke-width="1.2" stroke-dasharray="1.2 2.4"/>
<circle cx="39.80" cy="614.80" r="1.9" fill="#1f5c99"/>
<text x="49.20" y="616.10" font-size="8.1" font-weight="normal" fill="#231f20" stroke="#231f20" stroke-width="0.18" textLength="76.30" lengthAdjust="spacingAndGlyphs">Lymphoma HLH-2004+</text>
<text x="132.90" y="593.30" font-size="8.2" font-weight="bold" fill="#231f20" textLength="5.40" lengthAdjust="spacingAndGlyphs">N</text>
<text x="131.10" y="603.50" font-size="8.1" font-weight="normal" fill="#231f20" stroke="#231f20" stroke-width="0.18" textLength="7.90" lengthAdjust="spacingAndGlyphs">88</text>
<text x="131.70" y="616.10" font-size="8.1" font-weight="normal" fill="#231f20" stroke="#231f20" stroke-width="0.18" textLength="6.90" lengthAdjust="spacingAndGlyphs">79</text>
<line x1="149.60" y1="600.60" x2="161.70" y2="600.60" stroke="#cc1439" stroke-width="1.2" />
<polygon points="155.60,603.20 153.60,599.20 157.60,599.20" fill="#cc1439"/>
<text x="165.20" y="603.50" font-size="8.1" font-weight="normal" fill="#231f20" stroke="#231f20" stroke-width="0.18" textLength="54.80" lengthAdjust="spacingAndGlyphs">Lymphoma OHI–</text>
<line x1="149.60" y1="614.00" x2="161.70" y2="614.00" stroke="#cc1439" stroke-width="1.2" stroke-dasharray="1.2 2.4"/>
<polygon points="155.60,611.60 153.60,615.60 157.60,615.60" fill="#cc1439"/>
<text x="165.20" y="616.10" font-size="8.1" font-weight="normal" fill="#231f20" stroke="#231f20" stroke-width="0.18" textLength="55.80" lengthAdjust="spacingAndGlyphs">Lymphoma OHI+</text>
<text x="228.60" y="592.80" font-size="8.2" font-weight="bold" fill="#231f20" textLength="5.80" lengthAdjust="spacingAndGlyphs">N</text>
<text x="226.90" y="603.50" font-size="8.1" font-weight="normal" fill="#231f20" stroke="#231f20" stroke-width="0.18" textLength="8.10" lengthAdjust="spacingAndGlyphs">79</text>
<text x="226.90" y="616.10" font-size="8.1" font-weight="normal" fill="#231f20" stroke="#231f20" stroke-width="0.18" textLength="8.30" lengthAdjust="spacingAndGlyphs">88</text>
<text x="270.80" y="383.10" font-size="11.7" font-weight="bold" fill="#231f20" stroke="#231f20" stroke-width="0.6" textLength="8.40" lengthAdjust="spacingAndGlyphs">D</text>
<line x1="297.60" y1="382.30" x2="297.60" y2="555.70" stroke="#231f20" stroke-width="1.1" />
<line x1="297.10" y1="555.20" x2="499.70" y2="555.20" stroke="#231f20" stroke-width="1.3" />
<line x1="295.40" y1="555.20" x2="297.60" y2="555.20" stroke="#231f20" stroke-width="0.9" />
<text x="293.80" y="558.15" font-size="8.4" fill="#231f20" stroke="#231f20" stroke-width="0.18" text-anchor="end" textLength="4.20" lengthAdjust="spacingAndGlyphs">0</text>
<line x1="295.40" y1="538.39" x2="297.60" y2="538.39" stroke="#231f20" stroke-width="0.9" />
<text x="293.80" y="541.34" font-size="8.4" fill="#231f20" stroke="#231f20" stroke-width="0.18" text-anchor="end" textLength="8.40" lengthAdjust="spacingAndGlyphs">10</text>
<line x1="295.40" y1="521.58" x2="297.60" y2="521.58" stroke="#231f20" stroke-width="0.9" />
<text x="293.80" y="524.53" font-size="8.4" fill="#231f20" stroke="#231f20" stroke-width="0.18" text-anchor="end" textLength="8.40" lengthAdjust="spacingAndGlyphs">20</text>
<line x1="295.40" y1="504.77" x2="297.60" y2="504.77" stroke="#231f20" stroke-width="0.9" />
<text x="293.80" y="507.72" font-size="8.4" fill="#231f20" stroke="#231f20" stroke-width="0.18" text-anchor="end" textLength="8.40" lengthAdjust="spacingAndGlyphs">30</text>
<line x1="295.40" y1="487.96" x2="297.60" y2="487.96" stroke="#231f20" stroke-width="0.9" />
<text x="293.80" y="490.91" font-size="8.4" fill="#231f20" stroke="#231f20" stroke-width="0.18" text-anchor="end" textLength="8.40" lengthAdjust="spacingAndGlyphs">40</text>
<line x1="295.40" y1="471.15" x2="297.60" y2="471.15" stroke="#231f20" stroke-width="0.9" />
<text x="293.80" y="474.10" font-size="8.4" fill="#231f20" stroke="#231f20" stroke-width="0.18" text-anchor="end" textLength="8.40" lengthAdjust="spacingAndGlyphs">50</text>
<line x1="295.40" y1="454.34" x2="297.60" y2="454.34" stroke="#231f20" stroke-width="0.9" />
<text x="293.80" y="457.29" font-size="8.4" fill="#231f20" stroke="#231f20" stroke-width="0.18" text-anchor="end" textLength="8.40" lengthAdjust="spacingAndGlyphs">60</text>
<line x1="295.40" y1="437.53" x2="297.60" y2="437.53" stroke="#231f20" stroke-width="0.9" />
<text x="293.80" y="440.48" font-size="8.4" fill="#231f20" stroke="#231f20" stroke-width="0.18" text-anchor="end" textLength="8.40" lengthAdjust="spacingAndGlyphs">70</text>
<line x1="295.40" y1="420.72" x2="297.60" y2="420.72" stroke="#231f20" stroke-width="0.9" />
<text x="293.80" y="423.67" font-size="8.4" fill="#231f20" stroke="#231f20" stroke-width="0.18" text-anchor="end" textLength="8.40" lengthAdjust="spacingAndGlyphs">80</text>
<line x1="295.40" y1="403.91" x2="297.60" y2="403.91" stroke="#231f20" stroke-width="0.9" />
<text x="293.80" y="406.86" font-size="8.4" fill="#231f20" stroke="#231f20" stroke-width="0.18" text-anchor="end" textLength="8.40" lengthAdjust="spacingAndGlyphs">90</text>
<line x1="295.40" y1="387.10" x2="297.60" y2="387.10" stroke="#231f20" stroke-width="0.9" />
<text x="293.80" y="390.05" font-size="8.4" fill="#231f20" stroke="#231f20" stroke-width="0.18" text-anchor="end" textLength="12.60" lengthAdjust="spacingAndGlyphs">100</text>
<line x1="297.60" y1="555.20" x2="297.60" y2="557.40" stroke="#231f20" stroke-width="0.9" />
<text x="297.60" y="567.00" font-size="8.4" font-weight="normal" fill="#231f20" stroke="#231f20" stroke-width="0.18" text-anchor="middle" textLength="4.20" lengthAdjust="spacingAndGlyphs">0</text>
<line x1="337.24" y1="555.20" x2="337.24" y2="557.40" stroke="#231f20" stroke-width="0.9" />
<text x="337.24" y="567.00" font-size="8.4" font-weight="normal" fill="#231f20" stroke="#231f20" stroke-width="0.18" text-anchor="middle" textLength="12.60" lengthAdjust="spacingAndGlyphs">100</text>
<line x1="376.88" y1="555.20" x2="376.88" y2="557.40" stroke="#231f20" stroke-width="0.9" />
<text x="376.88" y="567.00" font-size="8.4" font-weight="normal" fill="#231f20" stroke="#231f20" stroke-width="0.18" text-anchor="middle" textLength="12.60" lengthAdjust="spacingAndGlyphs">200</text>
<line x1="416.52" y1="555.20" x2="416.52" y2="557.40" stroke="#231f20" stroke-width="0.9" />
<text x="416.52" y="567.00" font-size="8.4" font-weight="normal" fill="#231f20" stroke="#231f20" stroke-width="0.18" text-anchor="middle" textLength="12.60" lengthAdjust="spacingAndGlyphs">300</text>
<line x1="456.16" y1="555.20" x2="456.16" y2="557.40" stroke="#231f20" stroke-width="0.9" />
<text x="456.16" y="567.00" font-size="8.4" font-weight="normal" fill="#231f20" stroke="#231f20" stroke-width="0.18" text-anchor="middle" textLength="12.60" lengthAdjust="spacingAndGlyphs">400</text>
<line x1="495.80" y1="555.20" x2="495.80" y2="557.40" stroke="#231f20" stroke-width="0.9" />
<text x="495.80" y="567.00" font-size="8.4" font-weight="normal" fill="#231f20" stroke="#231f20" stroke-width="0.18" text-anchor="middle" textLength="12.60" lengthAdjust="spacingAndGlyphs">500</text>
<text transform="translate(279.00,504.50) rotate(-90)" x="0" y="0" font-size="10.2" fill="#231f20" stroke="#231f20" stroke-width="0.2" textLength="71.10" lengthAdjust="spacingAndGlyphs">Probability of survival</text>
<text x="350.50" y="580.50" font-size="10.1" font-weight="normal" fill="#231f20" stroke="#231f20" stroke-width="0.18" textLength="96.80" lengthAdjust="spacingAndGlyphs">Days from initial presentation</text>
<polyline points="297.20,393.00 299.50,408.00 300.70,415.60 301.10,422.30 302.60,442.50 304.90,447.70 305.50,470.80 306.50,477.50 308.40,485.20 311.30,491.50 316.10,491.50 316.10,498.70 322.80,498.70 322.80,506.00 332.40,506.00 332.40,513.10 338.20,513.10 338.20,519.20 378.60,519.20 378.60,526.20 408.80,526.20 408.80,533.80 428.90,533.80 428.90,541.20 496.50,541.20" fill="none" stroke="#cc1439" stroke-width="1.1" stroke-linejoin="round" stroke-dasharray="1.8 1.5"/>
<polyline points="297.20,392.00 298.50,405.00 299.50,411.00 300.50,420.00 301.50,430.00 302.50,437.70 303.50,445.00 305.50,455.40 305.50,461.20 308.00,461.20 308.00,467.90 310.70,467.90 310.70,473.70 316.10,473.70 316.10,480.00 322.80,480.00 322.80,486.20 332.40,486.20 332.40,492.30 338.20,492.30 338.20,498.70 378.60,498.70 378.60,505.00 381.80,505.00 381.80,511.20 386.80,511.20 386.80,518.10 408.80,518.10 408.80,523.90 419.60,523.90 419.60,530.10 428.90,530.10 428.90,536.60 496.50,536.60" fill="none" stroke="#1f5c99" stroke-width="1.1" stroke-linejoin="round" stroke-dasharray="1.8 1.5"/>
<polyline points="297.20,389.50 297.20,406.90 301.70,406.90 301.70,408.50 304.90,408.50 304.90,414.60 306.10,414.60 306.10,421.30 308.00,421.30 308.00,428.10 374.70,428.10 374.70,435.80 381.80,435.80 381.80,443.50 387.20,443.50 387.20,458.00 420.00,458.00 420.00,467.00 435.00,467.00 435.00,477.00 496.30,477.00" fill="none" stroke="#cc1439" stroke-width="1.3" stroke-linejoin="round" />
<polyline points="297.20,389.50 298.80,399.20 299.70,399.20 299.70,410.40 304.90,410.40 304.90,426.20 307.40,426.20 307.40,442.50 374.70,442.50 374.70,451.20 387.20,451.20 387.20,459.50 435.00,459.50 435.00,472.00 496.30,472.00" fill="none" stroke="#1f5c99" stroke-width="1.3" stroke-linejoin="round" />
<polygon points="297.50,394.28 295.60,390.48 299.40,390.48" fill="#cc1439"/>
<polygon points="298.00,402.28 296.10,398.48 299.90,398.48" fill="#cc1439"/>
<polygon points="301.70,410.78 299.80,406.98 303.60,406.98" fill="#cc1439"/>
<polygon points="304.90,416.88 303.00,413.08 306.80,413.08" fill="#cc1439"/>
<polygon points="306.10,423.58 304.20,419.78 308.00,419.78" fill="#cc1439"/>
<polygon points="308.00,430.38 306.10,426.58 309.90,426.58" fill="#cc1439"/>
<polygon points="371.80,430.38 369.90,426.58 373.70,426.58" fill="#cc1439"/>
<polygon points="374.70,438.08 372.80,434.28 376.60,434.28" fill="#cc1439"/>
<polygon points="381.80,445.78 379.90,441.98 383.70,441.98" fill="#cc1439"/>
<polygon points="387.20,453.08 385.30,449.28 389.10,449.28" fill="#cc1439"/>
<polygon points="388.75,460.28 386.85,456.48 390.65,456.48" fill="#cc1439"/>
<polygon points="401.25,460.28 399.35,456.48 403.15,456.48" fill="#cc1439"/>
<polygon points="418.75,460.28 416.85,456.48 420.65,456.48" fill="#cc1439"/>
<polygon points="420.00,469.28 418.10,465.48 421.90,465.48" fill="#cc1439"/>
<polygon points="435.00,479.28 433.10,475.48 436.90,475.48" fill="#cc1439"/>
<polygon points="465.00,479.28 463.10,475.48 466.90,475.48" fill="#cc1439"/>
<polygon points="496.30,479.28 494.40,475.48 498.20,475.48" fill="#cc1439"/>
<polygon points="299.00,398.72 297.10,402.52 300.90,402.52" fill="#cc1439"/>
<polygon points="300.00,408.72 298.10,412.52 301.90,412.52" fill="#cc1439"/>
<polygon points="300.70,413.32 298.80,417.12 302.60,417.12" fill="#cc1439"/>
<polygon points="301.10,420.02 299.20,423.82 303.00,423.82" fill="#cc1439"/>
<polygon points="302.60,440.22 300.70,444.02 304.50,444.02" fill="#cc1439"/>
<polygon points="304.90,445.42 303.00,449.22 306.80,449.22" fill="#cc1439"/>
<polygon points="305.50,459.72 303.60,463.52 307.40,463.52" fill="#cc1439"/>
<polygon points="305.80,468.52 303.90,472.32 307.70,472.32" fill="#cc1439"/>
<polygon points="306.50,475.22 304.60,479.02 308.40,479.02" fill="#cc1439"/>
<polygon points="308.40,482.92 306.50,486.72 310.30,486.72" fill="#cc1439"/>
<polygon points="311.30,489.22 309.40,493.02 313.20,493.02" fill="#cc1439"/>
<polygon points="316.10,496.42 314.20,500.22 318.00,500.22" fill="#cc1439"/>
<polygon points="322.80,503.72 320.90,507.52 324.70,507.52" fill="#cc1439"/>
<polygon points="332.40,510.82 330.50,514.62 334.30,514.62" fill="#cc1439"/>
<polygon points="338.20,516.92 336.30,520.72 340.10,520.72" fill="#cc1439"/>
<polygon points="378.60,523.92 376.70,527.72 380.50,527.72" fill="#cc1439"/>
<polygon points="408.80,531.52 406.90,535.32 410.70,535.32" fill="#cc1439"/>
<polygon points="428.90,538.92 427.00,542.72 430.80,542.72" fill="#cc1439"/>
<polygon points="496.50,538.92 494.60,542.72 498.40,542.72" fill="#cc1439"/>
<circle cx="297.20" cy="392.00" r="1.8" fill="#1f5c99"/>
<circle cx="297.50" cy="396.00" r="1.8" fill="#1f5c99"/>
<circle cx="298.80" cy="399.20" r="1.8" fill="#1f5c99"/>
<circle cx="299.70" cy="409.80" r="1.8" fill="#1f5c99"/>
<circle cx="304.90" cy="410.40" r="1.8" fill="#1f5c99"/>
<circle cx="307.40" cy="442.50" r="1.8" fill="#1f5c99"/>
<circle cx="371.80" cy="442.50" r="1.8" fill="#1f5c99"/>
<circle cx="374.70" cy="451.20" r="1.8" fill="#1f5c99"/>
<circle cx="388.75" cy="459.50" r="1.8" fill="#1f5c99"/>
<circle cx="401.25" cy="459.50" r="1.8" fill="#1f5c99"/>
<circle cx="415.00" cy="459.50" r="1.8" fill="#1f5c99"/>
<circle cx="421.25" cy="459.50" r="1.8" fill="#1f5c99"/>
<circle cx="435.00" cy="472.00" r="1.8" fill="#1f5c99"/>
<circle cx="465.00" cy="472.00" r="1.8" fill="#1f5c99"/>
<circle cx="496.30" cy="472.00" r="1.8" fill="#1f5c99"/>
<circle cx="298.50" cy="405.00" r="1.8" fill="#1f5c99"/>
<circle cx="299.50" cy="411.00" r="1.8" fill="#1f5c99"/>
<circle cx="300.50" cy="418.00" r="1.8" fill="#1f5c99"/>
<circle cx="301.50" cy="428.00" r="1.8" fill="#1f5c99"/>
<circle cx="302.50" cy="437.70" r="1.8" fill="#1f5c99"/>
<circle cx="305.50" cy="455.40" r="1.8" fill="#1f5c99"/>
<circle cx="305.50" cy="461.20" r="1.8" fill="#1f5c99"/>
<circle cx="308.00" cy="467.90" r="1.8" fill="#1f5c99"/>
<circle cx="310.70" cy="473.70" r="1.8" fill="#1f5c99"/>
<circle cx="316.10" cy="480.00" r="1.8" fill="#1f5c99"/>
<circle cx="322.80" cy="486.20" r="1.8" fill="#1f5c99"/>
<circle cx="332.40" cy="492.30" r="1.8" fill="#1f5c99"/>
<circle cx="338.20" cy="498.70" r="1.8" fill="#1f5c99"/>
<circle cx="378.60" cy="505.00" r="1.8" fill="#1f5c99"/>
<circle cx="381.80" cy="511.20" r="1.8" fill="#1f5c99"/>
<circle cx="386.80" cy="517.30" r="1.8" fill="#1f5c99"/>
<circle cx="408.80" cy="523.90" r="1.8" fill="#1f5c99"/>
<circle cx="419.60" cy="530.10" r="1.8" fill="#1f5c99"/>
<circle cx="428.90" cy="536.60" r="1.8" fill="#1f5c99"/>
<circle cx="496.50" cy="536.60" r="1.8" fill="#1f5c99"/>
<polyline points="498.80,472.00 512.60,472.00 512.60,536.60 506.70,536.60" fill="none" stroke="#231f20" stroke-width="0.9" stroke-linejoin="round" />
<polyline points="499.50,477.00 501.80,477.00 501.80,541.20 498.20,541.20" fill="none" stroke="#231f20" stroke-width="0.9" stroke-linejoin="round" />
<text x="495.00" y="511.30" font-size="8.5" font-weight="bold" fill="#231f20" text-anchor="middle" textLength="9.60" lengthAdjust="spacingAndGlyphs">***</text>
<text x="508.00" y="506.00" font-size="8.5" font-weight="bold" fill="#231f20" text-anchor="middle" textLength="6.20" lengthAdjust="spacingAndGlyphs">**</text>
<line x1="306.10" y1="599.80" x2="317.70" y2="599.80" stroke="#1f5c99" stroke-width="1.2" />
<circle cx="311.90" cy="599.80" r="1.9" fill="#1f5c99"/>
<text x="322.10" y="602.30" font-size="8.1" font-weight="normal" fill="#231f20" stroke="#231f20" stroke-width="0.18" textLength="65.40" lengthAdjust="spacingAndGlyphs">Myeloid HLH-2004–</text>
<line x1="306.10" y1="612.70" x2="317.70" y2="612.70" stroke="#1f5c99" stroke-width="1.2" stroke-dasharray="1.2 2.4"/>
<circle cx="311.90" cy="612.70" r="1.9" fill="#1f5c99"/>
<text x="322.10" y="614.40" font-size="8.1" font-weight="normal" fill="#231f20" stroke="#231f20" stroke-width="0.18" textLength="66.20" lengthAdjust="spacingAndGlyphs">Myeloid HLH-2004+</text>
<text x="394.40" y="591.30" font-size="8.2" font-weight="bold" fill="#231f20" textLength="5.80" lengthAdjust="spacingAndGlyphs">N</text>
<text x="393.80" y="602.30" font-size="8.1" font-weight="normal" fill="#231f20" stroke="#231f20" stroke-width="0.18" textLength="6.90" lengthAdjust="spacingAndGlyphs">21</text>
<text x="393.80" y="614.40" font-size="8.1" font-weight="normal" fill="#231f20" stroke="#231f20" stroke-width="0.18" textLength="6.90" lengthAdjust="spacingAndGlyphs">27</text>
<line x1="412.90" y1="599.10" x2="425.60" y2="599.10" stroke="#cc1439" stroke-width="1.2" stroke-dasharray="1.2 2.4"/>
<polygon points="419.20,596.70 417.20,600.70 421.20,600.70" fill="#cc1439"/>
<text x="430.80" y="601.60" font-size="8.1" font-weight="normal" fill="#231f20" stroke="#231f20" stroke-width="0.18" textLength="45.30" lengthAdjust="spacingAndGlyphs">Myeloid OHI–</text>
<line x1="412.90" y1="612.50" x2="425.60" y2="612.50" stroke="#cc1439" stroke-width="1.2" />
<polygon points="419.20,615.10 417.20,611.10 421.20,611.10" fill="#cc1439"/>
<text x="430.80" y="614.40" font-size="8.1" font-weight="normal" fill="#231f20" stroke="#231f20" stroke-width="0.18" textLength="46.20" lengthAdjust="spacingAndGlyphs">Myeloid OHI+</text>
<text x="484.20" y="591.90" font-size="8.2" font-weight="bold" fill="#231f20" textLength="5.20" lengthAdjust="spacingAndGlyphs">N</text>
<text x="483.10" y="601.60" font-size="8.1" font-weight="normal" fill="#231f20" stroke="#231f20" stroke-width="0.18" textLength="7.80" lengthAdjust="spacingAndGlyphs">24</text>
<text x="483.10" y="614.40" font-size="8.1" font-weight="normal" fill="#231f20" stroke="#231f20" stroke-width="0.18" textLength="7.80" lengthAdjust="spacingAndGlyphs">24</text>
<rect x="0" y="0" width="520" height="1.1" fill="#000"/>
<rect x="0" y="0" width="1.15" height="635" fill="#000"/>
<rect x="518.85" y="0" width="1.15" height="635" fill="#000"/>
<rect x="0" y="633.85" width="520" height="1.15" fill="#000"/>
</svg></body></html>
